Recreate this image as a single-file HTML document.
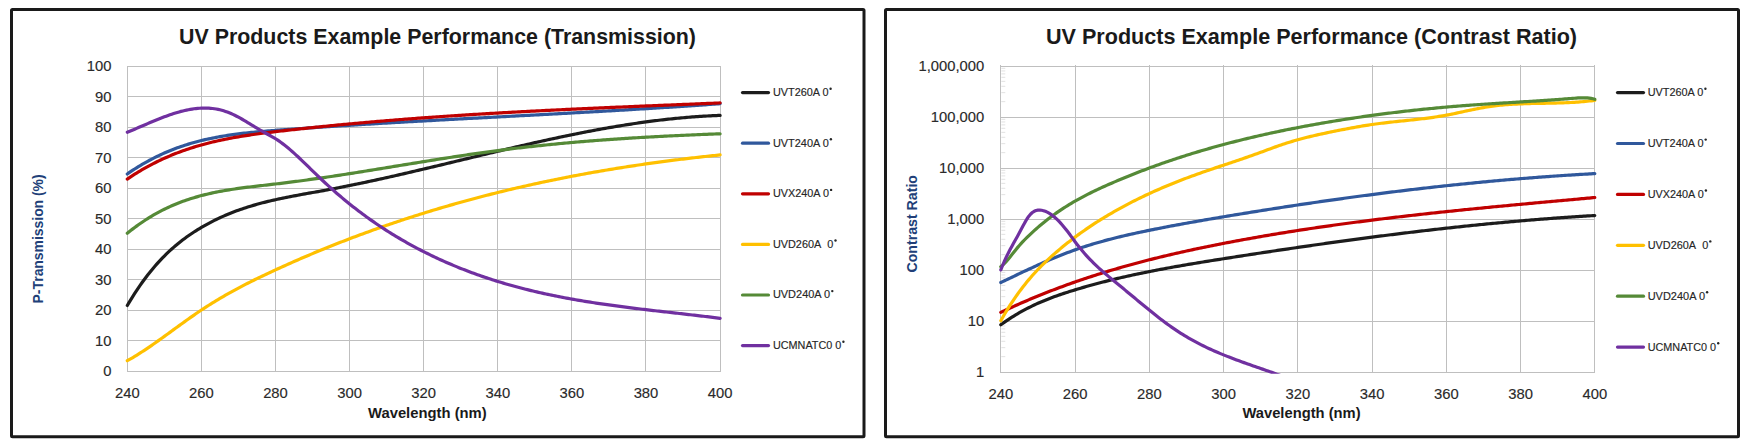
<!DOCTYPE html><html><head><meta charset="utf-8"><style>html,body{margin:0;padding:0;background:#fff;width:1750px;height:445px;overflow:hidden}svg{position:absolute;left:0;top:0;font-family:"Liberation Sans",sans-serif}</style></head><body>
<svg width="1750" height="445" viewBox="0 0 1750 445">
<defs><clipPath id="rclip"><rect x="997.8" y="63.0" width="600.0" height="310.8"/></clipPath></defs>
<rect x="11.5" y="9.6" width="852.5" height="427.2" rx="1" fill="none" stroke="#1a1a1a" stroke-width="3"/>
<text x="437.5" y="44" font-size="22" text-anchor="middle" fill="#1a1a1a" font-weight="bold" textLength="517" lengthAdjust="spacingAndGlyphs">UV Products Example Performance (Transmission)</text>
<path d="M127,371.50H721M127,340.50H721M127,310.50H721M127,279.50H721M127,249.50H721M127,218.50H721M127,188.50H721M127,157.50H721M127,127.50H721M127,96.50H721M127,66.50H721M127.50,66V372M201.50,66V372M275.50,66V372M349.50,66V372M423.50,66V372M497.50,66V372M571.50,66V372M645.50,66V372M720.50,66V372" stroke="#bfbfbf" stroke-width="1" fill="none"/>
<text x="111.5" y="376.3" font-size="15.4" text-anchor="end" fill="#2a2a2a" stroke="#2a2a2a" stroke-width="0.15" textLength="8.23" lengthAdjust="spacingAndGlyphs">0</text>
<text x="111.5" y="345.8" font-size="15.4" text-anchor="end" fill="#2a2a2a" stroke="#2a2a2a" stroke-width="0.15" textLength="16.46" lengthAdjust="spacingAndGlyphs">10</text>
<text x="111.5" y="315.3" font-size="15.4" text-anchor="end" fill="#2a2a2a" stroke="#2a2a2a" stroke-width="0.15" textLength="16.46" lengthAdjust="spacingAndGlyphs">20</text>
<text x="111.5" y="284.8" font-size="15.4" text-anchor="end" fill="#2a2a2a" stroke="#2a2a2a" stroke-width="0.15" textLength="16.46" lengthAdjust="spacingAndGlyphs">30</text>
<text x="111.5" y="254.3" font-size="15.4" text-anchor="end" fill="#2a2a2a" stroke="#2a2a2a" stroke-width="0.15" textLength="16.46" lengthAdjust="spacingAndGlyphs">40</text>
<text x="111.5" y="223.8" font-size="15.4" text-anchor="end" fill="#2a2a2a" stroke="#2a2a2a" stroke-width="0.15" textLength="16.46" lengthAdjust="spacingAndGlyphs">50</text>
<text x="111.5" y="193.3" font-size="15.4" text-anchor="end" fill="#2a2a2a" stroke="#2a2a2a" stroke-width="0.15" textLength="16.46" lengthAdjust="spacingAndGlyphs">60</text>
<text x="111.5" y="162.8" font-size="15.4" text-anchor="end" fill="#2a2a2a" stroke="#2a2a2a" stroke-width="0.15" textLength="16.46" lengthAdjust="spacingAndGlyphs">70</text>
<text x="111.5" y="132.3" font-size="15.4" text-anchor="end" fill="#2a2a2a" stroke="#2a2a2a" stroke-width="0.15" textLength="16.46" lengthAdjust="spacingAndGlyphs">80</text>
<text x="111.5" y="101.8" font-size="15.4" text-anchor="end" fill="#2a2a2a" stroke="#2a2a2a" stroke-width="0.15" textLength="16.46" lengthAdjust="spacingAndGlyphs">90</text>
<text x="111.5" y="71.3" font-size="15.4" text-anchor="end" fill="#2a2a2a" stroke="#2a2a2a" stroke-width="0.15" textLength="24.69" lengthAdjust="spacingAndGlyphs">100</text>
<text x="127.3" y="398.2" font-size="15.4" text-anchor="middle" fill="#2a2a2a" stroke="#2a2a2a" stroke-width="0.15" textLength="24.69" lengthAdjust="spacingAndGlyphs">240</text>
<text x="201.4" y="398.2" font-size="15.4" text-anchor="middle" fill="#2a2a2a" stroke="#2a2a2a" stroke-width="0.15" textLength="24.69" lengthAdjust="spacingAndGlyphs">260</text>
<text x="275.5" y="398.2" font-size="15.4" text-anchor="middle" fill="#2a2a2a" stroke="#2a2a2a" stroke-width="0.15" textLength="24.69" lengthAdjust="spacingAndGlyphs">280</text>
<text x="349.6" y="398.2" font-size="15.4" text-anchor="middle" fill="#2a2a2a" stroke="#2a2a2a" stroke-width="0.15" textLength="24.69" lengthAdjust="spacingAndGlyphs">300</text>
<text x="423.7" y="398.2" font-size="15.4" text-anchor="middle" fill="#2a2a2a" stroke="#2a2a2a" stroke-width="0.15" textLength="24.69" lengthAdjust="spacingAndGlyphs">320</text>
<text x="497.8" y="398.2" font-size="15.4" text-anchor="middle" fill="#2a2a2a" stroke="#2a2a2a" stroke-width="0.15" textLength="24.69" lengthAdjust="spacingAndGlyphs">340</text>
<text x="571.9" y="398.2" font-size="15.4" text-anchor="middle" fill="#2a2a2a" stroke="#2a2a2a" stroke-width="0.15" textLength="24.69" lengthAdjust="spacingAndGlyphs">360</text>
<text x="646.0" y="398.2" font-size="15.4" text-anchor="middle" fill="#2a2a2a" stroke="#2a2a2a" stroke-width="0.15" textLength="24.69" lengthAdjust="spacingAndGlyphs">380</text>
<text x="720.1" y="398.2" font-size="15.4" text-anchor="middle" fill="#2a2a2a" stroke="#2a2a2a" stroke-width="0.15" textLength="24.69" lengthAdjust="spacingAndGlyphs">400</text>
<text x="427.35" y="417.7" font-size="14.8" text-anchor="middle" fill="#1a1a1a" font-weight="bold" textLength="118.7" lengthAdjust="spacingAndGlyphs">Wavelength (nm)</text>
<g transform="translate(43.2,238.9) rotate(-90)"><text x="0" y="0" font-size="14.5" text-anchor="middle" fill="#213f78" font-weight="bold" textLength="129" lengthAdjust="spacingAndGlyphs">P-Transmission (%)</text></g>
<path d="M127.30,305.49 L129.15,302.36 L131.00,299.30 L132.86,296.33 L134.71,293.42 L136.56,290.59 L138.41,287.83 L140.27,285.14 L142.12,282.52 L143.97,279.97 L145.82,277.49 L147.68,275.07 L149.53,272.72 L151.38,270.43 L153.24,268.20 L155.09,266.03 L156.94,263.92 L158.79,261.87 L160.65,259.87 L162.50,257.93 L164.35,256.04 L166.20,254.20 L168.06,252.42 L169.91,250.68 L171.76,248.99 L173.61,247.35 L175.47,245.75 L177.32,244.20 L179.17,242.69 L181.02,241.23 L182.88,239.80 L184.73,238.41 L186.58,237.06 L188.43,235.74 L190.28,234.46 L192.14,233.22 L193.99,232.00 L195.84,230.82 L197.69,229.67 L199.55,228.54 L201.40,227.44 L203.25,226.37 L205.11,225.32 L206.96,224.29 L208.81,223.29 L210.66,222.31 L212.51,221.36 L214.37,220.43 L216.22,219.52 L218.07,218.63 L219.93,217.77 L221.78,216.92 L223.63,216.10 L225.48,215.30 L227.34,214.51 L229.19,213.75 L231.04,213.00 L232.89,212.27 L234.75,211.57 L236.60,210.87 L238.45,210.20 L240.30,209.54 L242.16,208.90 L244.01,208.28 L245.86,207.67 L247.71,207.07 L249.56,206.49 L251.42,205.93 L253.27,205.38 L255.12,204.84 L256.98,204.32 L258.83,203.80 L260.68,203.30 L262.53,202.82 L264.39,202.34 L266.24,201.87 L268.09,201.42 L269.94,200.97 L271.80,200.54 L273.65,200.11 L275.50,199.69 L277.35,199.28 L279.20,198.88 L281.06,198.49 L282.91,198.10 L284.76,197.72 L286.62,197.35 L288.47,196.98 L290.32,196.62 L292.17,196.26 L294.03,195.91 L295.88,195.56 L297.73,195.21 L299.58,194.87 L301.44,194.53 L303.29,194.20 L305.14,193.86 L306.99,193.53 L308.85,193.20 L310.70,192.87 L312.55,192.54 L314.40,192.21 L316.25,191.88 L318.11,191.55 L319.96,191.22 L321.81,190.88 L323.67,190.55 L325.52,190.21 L327.37,189.86 L329.22,189.52 L331.08,189.17 L332.93,188.82 L334.78,188.47 L336.63,188.11 L338.49,187.75 L340.34,187.39 L342.19,187.03 L344.04,186.66 L345.90,186.29 L347.75,185.92 L349.60,185.55 L351.45,185.17 L353.31,184.79 L355.16,184.41 L357.01,184.03 L358.86,183.64 L360.72,183.26 L362.57,182.87 L364.42,182.48 L366.27,182.08 L368.12,181.69 L369.98,181.29 L371.83,180.89 L373.68,180.49 L375.54,180.08 L377.39,179.68 L379.24,179.27 L381.09,178.86 L382.95,178.45 L384.80,178.04 L386.65,177.62 L388.50,177.21 L390.36,176.79 L392.21,176.37 L394.06,175.95 L395.91,175.53 L397.77,175.11 L399.62,174.68 L401.47,174.26 L403.32,173.83 L405.18,173.40 L407.03,172.97 L408.88,172.54 L410.73,172.11 L412.59,171.68 L414.44,171.24 L416.29,170.81 L418.14,170.37 L420.00,169.93 L421.85,169.50 L423.70,169.06 L425.55,168.62 L427.41,168.18 L429.26,167.74 L431.11,167.30 L432.96,166.85 L434.82,166.41 L436.67,165.97 L438.52,165.52 L440.37,165.08 L442.23,164.63 L444.08,164.19 L445.93,163.74 L447.78,163.30 L449.64,162.85 L451.49,162.40 L453.34,161.96 L455.19,161.51 L457.05,161.06 L458.90,160.62 L460.75,160.17 L462.60,159.72 L464.46,159.27 L466.31,158.83 L468.16,158.38 L470.01,157.93 L471.87,157.49 L473.72,157.04 L475.57,156.59 L477.42,156.15 L479.28,155.70 L481.13,155.26 L482.98,154.81 L484.83,154.37 L486.69,153.92 L488.54,153.48 L490.39,153.04 L492.24,152.59 L494.10,152.15 L495.95,151.71 L497.80,151.27 L499.65,150.83 L501.51,150.39 L503.36,149.95 L505.21,149.52 L507.06,149.08 L508.92,148.65 L510.77,148.21 L512.62,147.78 L514.47,147.35 L516.33,146.92 L518.18,146.49 L520.03,146.06 L521.88,145.63 L523.74,145.21 L525.59,144.78 L527.44,144.36 L529.29,143.94 L531.15,143.52 L533.00,143.10 L534.85,142.68 L536.70,142.26 L538.56,141.85 L540.41,141.44 L542.26,141.03 L544.11,140.62 L545.97,140.21 L547.82,139.80 L549.67,139.40 L551.52,139.00 L553.38,138.60 L555.23,138.20 L557.08,137.81 L558.93,137.41 L560.78,137.02 L562.64,136.63 L564.49,136.24 L566.34,135.86 L568.20,135.47 L570.05,135.09 L571.90,134.71 L573.75,134.34 L575.61,133.96 L577.46,133.59 L579.31,133.22 L581.16,132.86 L583.02,132.49 L584.87,132.13 L586.72,131.77 L588.57,131.42 L590.43,131.06 L592.28,130.71 L594.13,130.36 L595.98,130.02 L597.84,129.68 L599.69,129.34 L601.54,129.00 L603.39,128.67 L605.25,128.34 L607.10,128.01 L608.95,127.69 L610.80,127.37 L612.65,127.05 L614.51,126.73 L616.36,126.42 L618.21,126.11 L620.07,125.81 L621.92,125.51 L623.77,125.21 L625.62,124.91 L627.48,124.62 L629.33,124.34 L631.18,124.05 L633.03,123.77 L634.88,123.50 L636.74,123.22 L638.59,122.95 L640.44,122.69 L642.30,122.43 L644.15,122.17 L646.00,121.91 L647.85,121.66 L649.71,121.42 L651.56,121.18 L653.41,120.94 L655.26,120.71 L657.12,120.48 L658.97,120.25 L660.82,120.03 L662.67,119.81 L664.52,119.60 L666.38,119.39 L668.23,119.19 L670.08,118.99 L671.93,118.79 L673.79,118.60 L675.64,118.41 L677.49,118.23 L679.35,118.06 L681.20,117.88 L683.05,117.72 L684.90,117.55 L686.75,117.39 L688.61,117.24 L690.46,117.09 L692.31,116.95 L694.17,116.81 L696.02,116.67 L697.87,116.55 L699.72,116.42 L701.58,116.30 L703.43,116.19 L705.28,116.08 L707.13,115.98 L708.99,115.88 L710.84,115.79 L712.69,115.70 L714.54,115.62 L716.39,115.54 L718.25,115.47 L720.10,115.40" stroke="#1c1c1c" stroke-width="3.2" fill="none" stroke-linejoin="round" stroke-linecap="round"/>
<path d="M127.30,173.97 L129.15,172.69 L131.00,171.43 L132.86,170.20 L134.71,168.99 L136.56,167.82 L138.41,166.66 L140.27,165.54 L142.12,164.43 L143.97,163.36 L145.82,162.31 L147.68,161.28 L149.53,160.27 L151.38,159.29 L153.24,158.34 L155.09,157.40 L156.94,156.49 L158.79,155.60 L160.65,154.74 L162.50,153.89 L164.35,153.07 L166.20,152.26 L168.06,151.48 L169.91,150.72 L171.76,149.98 L173.61,149.26 L175.47,148.55 L177.32,147.87 L179.17,147.20 L181.02,146.56 L182.88,145.93 L184.73,145.32 L186.58,144.73 L188.43,144.15 L190.28,143.59 L192.14,143.05 L193.99,142.52 L195.84,142.01 L197.69,141.52 L199.55,141.04 L201.40,140.57 L203.25,140.12 L205.11,139.68 L206.96,139.26 L208.81,138.85 L210.66,138.45 L212.51,138.07 L214.37,137.70 L216.22,137.34 L218.07,137.00 L219.93,136.66 L221.78,136.34 L223.63,136.02 L225.48,135.72 L227.34,135.43 L229.19,135.15 L231.04,134.87 L232.89,134.61 L234.75,134.36 L236.60,134.11 L238.45,133.87 L240.30,133.64 L242.16,133.42 L244.01,133.21 L245.86,133.00 L247.71,132.80 L249.56,132.60 L251.42,132.42 L253.27,132.23 L255.12,132.06 L256.98,131.88 L258.83,131.72 L260.68,131.55 L262.53,131.39 L264.39,131.24 L266.24,131.08 L268.09,130.94 L269.94,130.79 L271.80,130.64 L273.65,130.50 L275.50,130.36 L277.35,130.22 L279.20,130.09 L281.06,129.95 L282.91,129.81 L284.76,129.68 L286.62,129.54 L288.47,129.41 L290.32,129.27 L292.17,129.14 L294.03,129.01 L295.88,128.88 L297.73,128.75 L299.58,128.61 L301.44,128.48 L303.29,128.36 L305.14,128.23 L306.99,128.10 L308.85,127.97 L310.70,127.84 L312.55,127.72 L314.40,127.59 L316.25,127.46 L318.11,127.34 L319.96,127.22 L321.81,127.09 L323.67,126.97 L325.52,126.85 L327.37,126.72 L329.22,126.60 L331.08,126.48 L332.93,126.36 L334.78,126.24 L336.63,126.12 L338.49,126.00 L340.34,125.88 L342.19,125.76 L344.04,125.64 L345.90,125.53 L347.75,125.41 L349.60,125.29 L351.45,125.18 L353.31,125.06 L355.16,124.95 L357.01,124.83 L358.86,124.72 L360.72,124.60 L362.57,124.49 L364.42,124.38 L366.27,124.26 L368.12,124.15 L369.98,124.04 L371.83,123.93 L373.68,123.82 L375.54,123.70 L377.39,123.59 L379.24,123.48 L381.09,123.37 L382.95,123.26 L384.80,123.16 L386.65,123.05 L388.50,122.94 L390.36,122.83 L392.21,122.72 L394.06,122.61 L395.91,122.51 L397.77,122.40 L399.62,122.29 L401.47,122.19 L403.32,122.08 L405.18,121.98 L407.03,121.87 L408.88,121.77 L410.73,121.66 L412.59,121.56 L414.44,121.45 L416.29,121.35 L418.14,121.25 L420.00,121.14 L421.85,121.04 L423.70,120.94 L425.55,120.83 L427.41,120.73 L429.26,120.63 L431.11,120.53 L432.96,120.42 L434.82,120.32 L436.67,120.22 L438.52,120.12 L440.37,120.02 L442.23,119.92 L444.08,119.82 L445.93,119.72 L447.78,119.62 L449.64,119.52 L451.49,119.41 L453.34,119.31 L455.19,119.22 L457.05,119.12 L458.90,119.02 L460.75,118.92 L462.60,118.82 L464.46,118.72 L466.31,118.62 L468.16,118.52 L470.01,118.42 L471.87,118.32 L473.72,118.22 L475.57,118.12 L477.42,118.03 L479.28,117.93 L481.13,117.83 L482.98,117.73 L484.83,117.63 L486.69,117.53 L488.54,117.44 L490.39,117.34 L492.24,117.24 L494.10,117.14 L495.95,117.04 L497.80,116.95 L499.65,116.85 L501.51,116.75 L503.36,116.65 L505.21,116.55 L507.06,116.46 L508.92,116.36 L510.77,116.26 L512.62,116.16 L514.47,116.06 L516.33,115.97 L518.18,115.87 L520.03,115.77 L521.88,115.67 L523.74,115.57 L525.59,115.47 L527.44,115.37 L529.29,115.28 L531.15,115.18 L533.00,115.08 L534.85,114.98 L536.70,114.88 L538.56,114.78 L540.41,114.68 L542.26,114.58 L544.11,114.48 L545.97,114.39 L547.82,114.29 L549.67,114.19 L551.52,114.09 L553.38,113.99 L555.23,113.89 L557.08,113.79 L558.93,113.69 L560.78,113.58 L562.64,113.48 L564.49,113.38 L566.34,113.28 L568.20,113.18 L570.05,113.08 L571.90,112.98 L573.75,112.87 L575.61,112.77 L577.46,112.67 L579.31,112.57 L581.16,112.47 L583.02,112.36 L584.87,112.26 L586.72,112.16 L588.57,112.05 L590.43,111.95 L592.28,111.84 L594.13,111.74 L595.98,111.63 L597.84,111.53 L599.69,111.42 L601.54,111.32 L603.39,111.21 L605.25,111.11 L607.10,111.00 L608.95,110.89 L610.80,110.79 L612.65,110.68 L614.51,110.57 L616.36,110.46 L618.21,110.35 L620.07,110.24 L621.92,110.14 L623.77,110.03 L625.62,109.92 L627.48,109.81 L629.33,109.70 L631.18,109.58 L633.03,109.47 L634.88,109.36 L636.74,109.25 L638.59,109.14 L640.44,109.02 L642.30,108.91 L644.15,108.80 L646.00,108.68 L647.85,108.57 L649.71,108.45 L651.56,108.34 L653.41,108.22 L655.26,108.11 L657.12,107.99 L658.97,107.87 L660.82,107.76 L662.67,107.64 L664.52,107.52 L666.38,107.40 L668.23,107.28 L670.08,107.16 L671.93,107.04 L673.79,106.92 L675.64,106.80 L677.49,106.68 L679.35,106.55 L681.20,106.43 L683.05,106.31 L684.90,106.18 L686.75,106.06 L688.61,105.93 L690.46,105.81 L692.31,105.68 L694.17,105.56 L696.02,105.43 L697.87,105.30 L699.72,105.17 L701.58,105.04 L703.43,104.91 L705.28,104.78 L707.13,104.65 L708.99,104.52 L710.84,104.39 L712.69,104.26 L714.54,104.12 L716.39,103.99 L718.25,103.86 L720.10,103.72" stroke="#30589c" stroke-width="3.2" fill="none" stroke-linejoin="round" stroke-linecap="round"/>
<path d="M127.30,179.08 L129.15,177.82 L131.00,176.60 L132.86,175.40 L134.71,174.22 L136.56,173.06 L138.41,171.93 L140.27,170.81 L142.12,169.73 L143.97,168.66 L145.82,167.61 L147.68,166.59 L149.53,165.59 L151.38,164.60 L153.24,163.64 L155.09,162.70 L156.94,161.78 L158.79,160.88 L160.65,160.00 L162.50,159.13 L164.35,158.29 L166.20,157.46 L168.06,156.66 L169.91,155.87 L171.76,155.09 L173.61,154.34 L175.47,153.60 L177.32,152.88 L179.17,152.18 L181.02,151.49 L182.88,150.82 L184.73,150.17 L186.58,149.53 L188.43,148.90 L190.28,148.30 L192.14,147.70 L193.99,147.12 L195.84,146.56 L197.69,146.00 L199.55,145.47 L201.40,144.94 L203.25,144.43 L205.11,143.93 L206.96,143.44 L208.81,142.97 L210.66,142.51 L212.51,142.05 L214.37,141.62 L216.22,141.19 L218.07,140.77 L219.93,140.36 L221.78,139.97 L223.63,139.58 L225.48,139.20 L227.34,138.83 L229.19,138.47 L231.04,138.13 L232.89,137.78 L234.75,137.45 L236.60,137.13 L238.45,136.81 L240.30,136.50 L242.16,136.20 L244.01,135.90 L245.86,135.61 L247.71,135.33 L249.56,135.06 L251.42,134.79 L253.27,134.52 L255.12,134.26 L256.98,134.01 L258.83,133.76 L260.68,133.51 L262.53,133.27 L264.39,133.03 L266.24,132.80 L268.09,132.57 L269.94,132.34 L271.80,132.12 L273.65,131.89 L275.50,131.67 L277.35,131.46 L279.20,131.24 L281.06,131.02 L282.91,130.81 L284.76,130.60 L286.62,130.39 L288.47,130.18 L290.32,129.97 L292.17,129.76 L294.03,129.55 L295.88,129.35 L297.73,129.14 L299.58,128.94 L301.44,128.74 L303.29,128.54 L305.14,128.34 L306.99,128.14 L308.85,127.95 L310.70,127.75 L312.55,127.56 L314.40,127.36 L316.25,127.17 L318.11,126.98 L319.96,126.79 L321.81,126.60 L323.67,126.41 L325.52,126.23 L327.37,126.04 L329.22,125.86 L331.08,125.68 L332.93,125.49 L334.78,125.31 L336.63,125.13 L338.49,124.95 L340.34,124.78 L342.19,124.60 L344.04,124.43 L345.90,124.25 L347.75,124.08 L349.60,123.91 L351.45,123.73 L353.31,123.56 L355.16,123.40 L357.01,123.23 L358.86,123.06 L360.72,122.89 L362.57,122.73 L364.42,122.56 L366.27,122.40 L368.12,122.24 L369.98,122.08 L371.83,121.92 L373.68,121.76 L375.54,121.60 L377.39,121.44 L379.24,121.29 L381.09,121.13 L382.95,120.98 L384.80,120.83 L386.65,120.67 L388.50,120.52 L390.36,120.37 L392.21,120.22 L394.06,120.07 L395.91,119.93 L397.77,119.78 L399.62,119.63 L401.47,119.49 L403.32,119.34 L405.18,119.20 L407.03,119.06 L408.88,118.92 L410.73,118.78 L412.59,118.64 L414.44,118.50 L416.29,118.36 L418.14,118.22 L420.00,118.09 L421.85,117.95 L423.70,117.82 L425.55,117.68 L427.41,117.55 L429.26,117.42 L431.11,117.29 L432.96,117.15 L434.82,117.02 L436.67,116.90 L438.52,116.77 L440.37,116.64 L442.23,116.51 L444.08,116.39 L445.93,116.26 L447.78,116.14 L449.64,116.01 L451.49,115.89 L453.34,115.77 L455.19,115.65 L457.05,115.53 L458.90,115.41 L460.75,115.29 L462.60,115.17 L464.46,115.05 L466.31,114.93 L468.16,114.82 L470.01,114.70 L471.87,114.58 L473.72,114.47 L475.57,114.36 L477.42,114.24 L479.28,114.13 L481.13,114.02 L482.98,113.91 L484.83,113.80 L486.69,113.69 L488.54,113.58 L490.39,113.47 L492.24,113.36 L494.10,113.25 L495.95,113.15 L497.80,113.04 L499.65,112.93 L501.51,112.83 L503.36,112.72 L505.21,112.62 L507.06,112.52 L508.92,112.41 L510.77,112.31 L512.62,112.21 L514.47,112.11 L516.33,112.01 L518.18,111.91 L520.03,111.81 L521.88,111.71 L523.74,111.61 L525.59,111.51 L527.44,111.41 L529.29,111.32 L531.15,111.22 L533.00,111.13 L534.85,111.03 L536.70,110.93 L538.56,110.84 L540.41,110.75 L542.26,110.65 L544.11,110.56 L545.97,110.47 L547.82,110.37 L549.67,110.28 L551.52,110.19 L553.38,110.10 L555.23,110.01 L557.08,109.92 L558.93,109.83 L560.78,109.74 L562.64,109.65 L564.49,109.56 L566.34,109.47 L568.20,109.39 L570.05,109.30 L571.90,109.21 L573.75,109.12 L575.61,109.04 L577.46,108.95 L579.31,108.87 L581.16,108.78 L583.02,108.70 L584.87,108.61 L586.72,108.53 L588.57,108.44 L590.43,108.36 L592.28,108.28 L594.13,108.19 L595.98,108.11 L597.84,108.03 L599.69,107.95 L601.54,107.86 L603.39,107.78 L605.25,107.70 L607.10,107.62 L608.95,107.54 L610.80,107.46 L612.65,107.38 L614.51,107.30 L616.36,107.22 L618.21,107.14 L620.07,107.06 L621.92,106.98 L623.77,106.90 L625.62,106.82 L627.48,106.74 L629.33,106.67 L631.18,106.59 L633.03,106.51 L634.88,106.43 L636.74,106.35 L638.59,106.28 L640.44,106.20 L642.30,106.12 L644.15,106.04 L646.00,105.97 L647.85,105.89 L649.71,105.81 L651.56,105.74 L653.41,105.66 L655.26,105.59 L657.12,105.51 L658.97,105.43 L660.82,105.36 L662.67,105.28 L664.52,105.21 L666.38,105.13 L668.23,105.05 L670.08,104.98 L671.93,104.90 L673.79,104.83 L675.64,104.75 L677.49,104.68 L679.35,104.60 L681.20,104.53 L683.05,104.45 L684.90,104.38 L686.75,104.30 L688.61,104.23 L690.46,104.15 L692.31,104.07 L694.17,104.00 L696.02,103.92 L697.87,103.85 L699.72,103.77 L701.58,103.70 L703.43,103.62 L705.28,103.55 L707.13,103.47 L708.99,103.40 L710.84,103.32 L712.69,103.25 L714.54,103.17 L716.39,103.09 L718.25,103.02 L720.10,102.94" stroke="#c00000" stroke-width="3.2" fill="none" stroke-linejoin="round" stroke-linecap="round"/>
<path d="M127.30,360.69 L129.15,359.65 L131.00,358.60 L132.86,357.51 L134.71,356.41 L136.56,355.28 L138.41,354.13 L140.27,352.95 L142.12,351.76 L143.97,350.55 L145.82,349.33 L147.68,348.08 L149.53,346.83 L151.38,345.56 L153.24,344.27 L155.09,342.98 L156.94,341.68 L158.79,340.36 L160.65,339.04 L162.50,337.72 L164.35,336.38 L166.20,335.04 L168.06,333.70 L169.91,332.36 L171.76,331.01 L173.61,329.66 L175.47,328.32 L177.32,326.97 L179.17,325.63 L181.02,324.29 L182.88,322.95 L184.73,321.62 L186.58,320.29 L188.43,318.97 L190.28,317.67 L192.14,316.36 L193.99,315.07 L195.84,313.80 L197.69,312.53 L199.55,311.28 L201.40,310.04 L203.25,308.81 L205.11,307.60 L206.96,306.41 L208.81,305.23 L210.66,304.06 L212.51,302.91 L214.37,301.77 L216.22,300.64 L218.07,299.53 L219.93,298.43 L221.78,297.34 L223.63,296.27 L225.48,295.20 L227.34,294.15 L229.19,293.11 L231.04,292.08 L232.89,291.06 L234.75,290.05 L236.60,289.05 L238.45,288.06 L240.30,287.09 L242.16,286.11 L244.01,285.15 L245.86,284.20 L247.71,283.26 L249.56,282.32 L251.42,281.39 L253.27,280.47 L255.12,279.56 L256.98,278.65 L258.83,277.75 L260.68,276.85 L262.53,275.97 L264.39,275.08 L266.24,274.21 L268.09,273.34 L269.94,272.47 L271.80,271.61 L273.65,270.75 L275.50,269.90 L277.35,269.05 L279.20,268.20 L281.06,267.36 L282.91,266.52 L284.76,265.69 L286.62,264.86 L288.47,264.03 L290.32,263.21 L292.17,262.39 L294.03,261.57 L295.88,260.76 L297.73,259.95 L299.58,259.15 L301.44,258.34 L303.29,257.55 L305.14,256.75 L306.99,255.96 L308.85,255.18 L310.70,254.39 L312.55,253.61 L314.40,252.84 L316.25,252.07 L318.11,251.30 L319.96,250.53 L321.81,249.77 L323.67,249.01 L325.52,248.26 L327.37,247.51 L329.22,246.76 L331.08,246.02 L332.93,245.28 L334.78,244.54 L336.63,243.81 L338.49,243.08 L340.34,242.35 L342.19,241.63 L344.04,240.91 L345.90,240.20 L347.75,239.48 L349.60,238.78 L351.45,238.07 L353.31,237.37 L355.16,236.67 L357.01,235.98 L358.86,235.28 L360.72,234.60 L362.57,233.91 L364.42,233.23 L366.27,232.55 L368.12,231.88 L369.98,231.21 L371.83,230.54 L373.68,229.87 L375.54,229.21 L377.39,228.56 L379.24,227.90 L381.09,227.25 L382.95,226.60 L384.80,225.96 L386.65,225.32 L388.50,224.68 L390.36,224.04 L392.21,223.41 L394.06,222.78 L395.91,222.16 L397.77,221.54 L399.62,220.92 L401.47,220.30 L403.32,219.69 L405.18,219.08 L407.03,218.47 L408.88,217.87 L410.73,217.27 L412.59,216.68 L414.44,216.08 L416.29,215.49 L418.14,214.91 L420.00,214.32 L421.85,213.74 L423.70,213.16 L425.55,212.59 L427.41,212.02 L429.26,211.45 L431.11,210.88 L432.96,210.32 L434.82,209.76 L436.67,209.21 L438.52,208.65 L440.37,208.10 L442.23,207.56 L444.08,207.01 L445.93,206.47 L447.78,205.93 L449.64,205.40 L451.49,204.87 L453.34,204.34 L455.19,203.81 L457.05,203.29 L458.90,202.77 L460.75,202.25 L462.60,201.74 L464.46,201.23 L466.31,200.72 L468.16,200.21 L470.01,199.71 L471.87,199.21 L473.72,198.71 L475.57,198.22 L477.42,197.73 L479.28,197.24 L481.13,196.76 L482.98,196.27 L484.83,195.79 L486.69,195.32 L488.54,194.84 L490.39,194.37 L492.24,193.90 L494.10,193.44 L495.95,192.98 L497.80,192.52 L499.65,192.06 L501.51,191.60 L503.36,191.15 L505.21,190.70 L507.06,190.26 L508.92,189.81 L510.77,189.37 L512.62,188.93 L514.47,188.50 L516.33,188.06 L518.18,187.63 L520.03,187.21 L521.88,186.78 L523.74,186.36 L525.59,185.94 L527.44,185.52 L529.29,185.11 L531.15,184.70 L533.00,184.29 L534.85,183.88 L536.70,183.48 L538.56,183.08 L540.41,182.68 L542.26,182.28 L544.11,181.89 L545.97,181.50 L547.82,181.11 L549.67,180.72 L551.52,180.34 L553.38,179.96 L555.23,179.58 L557.08,179.20 L558.93,178.83 L560.78,178.46 L562.64,178.09 L564.49,177.73 L566.34,177.36 L568.20,177.00 L570.05,176.64 L571.90,176.29 L573.75,175.93 L575.61,175.58 L577.46,175.23 L579.31,174.89 L581.16,174.54 L583.02,174.20 L584.87,173.86 L586.72,173.52 L588.57,173.19 L590.43,172.86 L592.28,172.53 L594.13,172.20 L595.98,171.87 L597.84,171.55 L599.69,171.23 L601.54,170.91 L603.39,170.59 L605.25,170.28 L607.10,169.97 L608.95,169.66 L610.80,169.35 L612.65,169.05 L614.51,168.74 L616.36,168.44 L618.21,168.15 L620.07,167.85 L621.92,167.56 L623.77,167.26 L625.62,166.97 L627.48,166.69 L629.33,166.40 L631.18,166.12 L633.03,165.84 L634.88,165.56 L636.74,165.28 L638.59,165.01 L640.44,164.74 L642.30,164.47 L644.15,164.20 L646.00,163.93 L647.85,163.67 L649.71,163.41 L651.56,163.15 L653.41,162.89 L655.26,162.63 L657.12,162.38 L658.97,162.13 L660.82,161.88 L662.67,161.63 L664.52,161.39 L666.38,161.14 L668.23,160.90 L670.08,160.66 L671.93,160.42 L673.79,160.19 L675.64,159.95 L677.49,159.72 L679.35,159.49 L681.20,159.26 L683.05,159.04 L684.90,158.81 L686.75,158.59 L688.61,158.37 L690.46,158.15 L692.31,157.94 L694.17,157.72 L696.02,157.51 L697.87,157.30 L699.72,157.09 L701.58,156.88 L703.43,156.68 L705.28,156.47 L707.13,156.27 L708.99,156.07 L710.84,155.87 L712.69,155.68 L714.54,155.48 L716.39,155.29 L718.25,155.10 L720.10,154.91" stroke="#ffc000" stroke-width="3.2" fill="none" stroke-linejoin="round" stroke-linecap="round"/>
<path d="M127.30,233.29 L129.15,231.78 L131.00,230.31 L132.86,228.88 L134.71,227.48 L136.56,226.11 L138.41,224.77 L140.27,223.47 L142.12,222.20 L143.97,220.96 L145.82,219.75 L147.68,218.57 L149.53,217.43 L151.38,216.31 L153.24,215.22 L155.09,214.16 L156.94,213.13 L158.79,212.12 L160.65,211.15 L162.50,210.20 L164.35,209.27 L166.20,208.37 L168.06,207.50 L169.91,206.65 L171.76,205.83 L173.61,205.03 L175.47,204.25 L177.32,203.50 L179.17,202.77 L181.02,202.06 L182.88,201.37 L184.73,200.71 L186.58,200.06 L188.43,199.44 L190.28,198.83 L192.14,198.24 L193.99,197.68 L195.84,197.13 L197.69,196.60 L199.55,196.08 L201.40,195.58 L203.25,195.10 L205.11,194.64 L206.96,194.19 L208.81,193.75 L210.66,193.33 L212.51,192.92 L214.37,192.53 L216.22,192.15 L218.07,191.78 L219.93,191.43 L221.78,191.08 L223.63,190.75 L225.48,190.43 L227.34,190.11 L229.19,189.81 L231.04,189.52 L232.89,189.23 L234.75,188.96 L236.60,188.69 L238.45,188.43 L240.30,188.17 L242.16,187.92 L244.01,187.68 L245.86,187.44 L247.71,187.21 L249.56,186.98 L251.42,186.76 L253.27,186.54 L255.12,186.32 L256.98,186.11 L258.83,185.90 L260.68,185.68 L262.53,185.47 L264.39,185.27 L266.24,185.06 L268.09,184.85 L269.94,184.64 L271.80,184.43 L273.65,184.21 L275.50,184.00 L277.35,183.78 L279.20,183.56 L281.06,183.34 L282.91,183.11 L284.76,182.88 L286.62,182.65 L288.47,182.42 L290.32,182.18 L292.17,181.95 L294.03,181.71 L295.88,181.46 L297.73,181.22 L299.58,180.97 L301.44,180.72 L303.29,180.47 L305.14,180.22 L306.99,179.96 L308.85,179.71 L310.70,179.45 L312.55,179.19 L314.40,178.93 L316.25,178.66 L318.11,178.39 L319.96,178.13 L321.81,177.86 L323.67,177.59 L325.52,177.31 L327.37,177.04 L329.22,176.76 L331.08,176.48 L332.93,176.21 L334.78,175.92 L336.63,175.64 L338.49,175.36 L340.34,175.08 L342.19,174.79 L344.04,174.50 L345.90,174.21 L347.75,173.93 L349.60,173.64 L351.45,173.34 L353.31,173.05 L355.16,172.76 L357.01,172.46 L358.86,172.17 L360.72,171.87 L362.57,171.58 L364.42,171.28 L366.27,170.98 L368.12,170.68 L369.98,170.38 L371.83,170.08 L373.68,169.78 L375.54,169.48 L377.39,169.18 L379.24,168.88 L381.09,168.58 L382.95,168.27 L384.80,167.97 L386.65,167.67 L388.50,167.37 L390.36,167.06 L392.21,166.76 L394.06,166.45 L395.91,166.15 L397.77,165.85 L399.62,165.54 L401.47,165.24 L403.32,164.94 L405.18,164.63 L407.03,164.33 L408.88,164.03 L410.73,163.72 L412.59,163.42 L414.44,163.12 L416.29,162.82 L418.14,162.52 L420.00,162.21 L421.85,161.91 L423.70,161.61 L425.55,161.32 L427.41,161.02 L429.26,160.72 L431.11,160.42 L432.96,160.13 L434.82,159.83 L436.67,159.54 L438.52,159.24 L440.37,158.95 L442.23,158.66 L444.08,158.37 L445.93,158.08 L447.78,157.79 L449.64,157.50 L451.49,157.21 L453.34,156.93 L455.19,156.64 L457.05,156.36 L458.90,156.08 L460.75,155.80 L462.60,155.52 L464.46,155.25 L466.31,154.97 L468.16,154.70 L470.01,154.42 L471.87,154.15 L473.72,153.88 L475.57,153.62 L477.42,153.35 L479.28,153.09 L481.13,152.82 L482.98,152.56 L484.83,152.31 L486.69,152.05 L488.54,151.80 L490.39,151.54 L492.24,151.29 L494.10,151.04 L495.95,150.80 L497.80,150.56 L499.65,150.31 L501.51,150.07 L503.36,149.84 L505.21,149.60 L507.06,149.37 L508.92,149.14 L510.77,148.91 L512.62,148.68 L514.47,148.46 L516.33,148.24 L518.18,148.02 L520.03,147.80 L521.88,147.59 L523.74,147.37 L525.59,147.16 L527.44,146.95 L529.29,146.74 L531.15,146.54 L533.00,146.33 L534.85,146.13 L536.70,145.93 L538.56,145.74 L540.41,145.54 L542.26,145.35 L544.11,145.16 L545.97,144.97 L547.82,144.78 L549.67,144.59 L551.52,144.41 L553.38,144.23 L555.23,144.05 L557.08,143.87 L558.93,143.69 L560.78,143.51 L562.64,143.34 L564.49,143.17 L566.34,143.00 L568.20,142.83 L570.05,142.67 L571.90,142.50 L573.75,142.34 L575.61,142.18 L577.46,142.02 L579.31,141.86 L581.16,141.71 L583.02,141.55 L584.87,141.40 L586.72,141.25 L588.57,141.10 L590.43,140.95 L592.28,140.80 L594.13,140.66 L595.98,140.52 L597.84,140.38 L599.69,140.24 L601.54,140.10 L603.39,139.96 L605.25,139.82 L607.10,139.69 L608.95,139.56 L610.80,139.43 L612.65,139.30 L614.51,139.17 L616.36,139.04 L618.21,138.92 L620.07,138.79 L621.92,138.67 L623.77,138.55 L625.62,138.43 L627.48,138.31 L629.33,138.19 L631.18,138.08 L633.03,137.96 L634.88,137.85 L636.74,137.74 L638.59,137.63 L640.44,137.52 L642.30,137.41 L644.15,137.30 L646.00,137.20 L647.85,137.09 L649.71,136.99 L651.56,136.89 L653.41,136.78 L655.26,136.68 L657.12,136.59 L658.97,136.49 L660.82,136.39 L662.67,136.30 L664.52,136.20 L666.38,136.11 L668.23,136.01 L670.08,135.92 L671.93,135.83 L673.79,135.74 L675.64,135.66 L677.49,135.57 L679.35,135.48 L681.20,135.40 L683.05,135.31 L684.90,135.23 L686.75,135.15 L688.61,135.06 L690.46,134.98 L692.31,134.90 L694.17,134.82 L696.02,134.74 L697.87,134.67 L699.72,134.59 L701.58,134.52 L703.43,134.44 L705.28,134.37 L707.13,134.29 L708.99,134.22 L710.84,134.15 L712.69,134.08 L714.54,134.01 L716.39,133.94 L718.25,133.87 L720.10,133.80" stroke="#558a37" stroke-width="3.2" fill="none" stroke-linejoin="round" stroke-linecap="round"/>
<path d="M127.30,132.23 L129.15,131.48 L131.00,130.71 L132.86,129.94 L134.71,129.16 L136.56,128.37 L138.41,127.58 L140.27,126.79 L142.12,125.99 L143.97,125.20 L145.82,124.41 L147.68,123.61 L149.53,122.83 L151.38,122.04 L153.24,121.27 L155.09,120.50 L156.94,119.74 L158.79,119.00 L160.65,118.26 L162.50,117.54 L164.35,116.84 L166.20,116.15 L168.06,115.48 L169.91,114.83 L171.76,114.20 L173.61,113.59 L175.47,113.01 L177.32,112.45 L179.17,111.92 L181.02,111.41 L182.88,110.94 L184.73,110.49 L186.58,110.08 L188.43,109.71 L190.28,109.36 L192.14,109.06 L193.99,108.79 L195.84,108.56 L197.69,108.37 L199.55,108.23 L201.40,108.12 L203.25,108.07 L205.11,108.06 L206.96,108.09 L208.81,108.18 L210.66,108.32 L212.51,108.50 L214.37,108.75 L216.22,109.04 L218.07,109.40 L219.93,109.81 L221.78,110.28 L223.63,110.81 L225.48,111.40 L227.34,112.06 L229.19,112.78 L231.04,113.56 L232.89,114.40 L234.75,115.29 L236.60,116.22 L238.45,117.20 L240.30,118.21 L242.16,119.26 L244.01,120.33 L245.86,121.42 L247.71,122.53 L249.56,123.65 L251.42,124.78 L253.27,125.91 L255.12,127.04 L256.98,128.16 L258.83,129.27 L260.68,130.36 L262.53,131.42 L264.39,132.46 L266.24,133.48 L268.09,134.48 L269.94,135.50 L271.80,136.53 L273.65,137.61 L275.50,138.73 L277.35,139.92 L279.20,141.18 L281.06,142.50 L282.91,143.88 L284.76,145.31 L286.62,146.79 L288.47,148.32 L290.32,149.89 L292.17,151.50 L294.03,153.15 L295.88,154.83 L297.73,156.54 L299.58,158.28 L301.44,160.04 L303.29,161.81 L305.14,163.60 L306.99,165.40 L308.85,167.21 L310.70,169.02 L312.55,170.83 L314.40,172.64 L316.25,174.44 L318.11,176.23 L319.96,178.01 L321.81,179.77 L323.67,181.50 L325.52,183.23 L327.37,184.93 L329.22,186.61 L331.08,188.28 L332.93,189.93 L334.78,191.56 L336.63,193.17 L338.49,194.76 L340.34,196.34 L342.19,197.90 L344.04,199.44 L345.90,200.97 L347.75,202.48 L349.60,203.97 L351.45,205.45 L353.31,206.91 L355.16,208.35 L357.01,209.78 L358.86,211.19 L360.72,212.59 L362.57,213.97 L364.42,215.33 L366.27,216.68 L368.12,218.02 L369.98,219.33 L371.83,220.64 L373.68,221.93 L375.54,223.20 L377.39,224.46 L379.24,225.71 L381.09,226.94 L382.95,228.16 L384.80,229.36 L386.65,230.55 L388.50,231.73 L390.36,232.89 L392.21,234.04 L394.06,235.17 L395.91,236.30 L397.77,237.41 L399.62,238.50 L401.47,239.59 L403.32,240.66 L405.18,241.72 L407.03,242.77 L408.88,243.80 L410.73,244.82 L412.59,245.84 L414.44,246.84 L416.29,247.82 L418.14,248.80 L420.00,249.77 L421.85,250.72 L423.70,251.67 L425.55,252.60 L427.41,253.52 L429.26,254.43 L431.11,255.34 L432.96,256.23 L434.82,257.11 L436.67,257.98 L438.52,258.84 L440.37,259.69 L442.23,260.53 L444.08,261.36 L445.93,262.18 L447.78,262.99 L449.64,263.79 L451.49,264.58 L453.34,265.36 L455.19,266.13 L457.05,266.89 L458.90,267.65 L460.75,268.39 L462.60,269.13 L464.46,269.85 L466.31,270.57 L468.16,271.27 L470.01,271.97 L471.87,272.66 L473.72,273.34 L475.57,274.02 L477.42,274.68 L479.28,275.34 L481.13,275.98 L482.98,276.62 L484.83,277.25 L486.69,277.88 L488.54,278.49 L490.39,279.10 L492.24,279.69 L494.10,280.28 L495.95,280.87 L497.80,281.44 L499.65,282.01 L501.51,282.57 L503.36,283.12 L505.21,283.67 L507.06,284.21 L508.92,284.74 L510.77,285.26 L512.62,285.78 L514.47,286.29 L516.33,286.79 L518.18,287.29 L520.03,287.78 L521.88,288.26 L523.74,288.74 L525.59,289.21 L527.44,289.67 L529.29,290.13 L531.15,290.58 L533.00,291.02 L534.85,291.46 L536.70,291.89 L538.56,292.32 L540.41,292.74 L542.26,293.16 L544.11,293.57 L545.97,293.97 L547.82,294.37 L549.67,294.76 L551.52,295.15 L553.38,295.53 L555.23,295.91 L557.08,296.28 L558.93,296.65 L560.78,297.01 L562.64,297.36 L564.49,297.72 L566.34,298.06 L568.20,298.41 L570.05,298.75 L571.90,299.08 L573.75,299.41 L575.61,299.73 L577.46,300.05 L579.31,300.37 L581.16,300.68 L583.02,300.99 L584.87,301.30 L586.72,301.60 L588.57,301.90 L590.43,302.19 L592.28,302.48 L594.13,302.76 L595.98,303.05 L597.84,303.33 L599.69,303.60 L601.54,303.88 L603.39,304.15 L605.25,304.41 L607.10,304.68 L608.95,304.94 L610.80,305.20 L612.65,305.45 L614.51,305.70 L616.36,305.95 L618.21,306.20 L620.07,306.45 L621.92,306.69 L623.77,306.93 L625.62,307.17 L627.48,307.40 L629.33,307.64 L631.18,307.87 L633.03,308.10 L634.88,308.33 L636.74,308.56 L638.59,308.78 L640.44,309.01 L642.30,309.23 L644.15,309.45 L646.00,309.67 L647.85,309.89 L649.71,310.11 L651.56,310.32 L653.41,310.54 L655.26,310.75 L657.12,310.97 L658.97,311.18 L660.82,311.39 L662.67,311.60 L664.52,311.81 L666.38,312.02 L668.23,312.23 L670.08,312.44 L671.93,312.65 L673.79,312.86 L675.64,313.07 L677.49,313.28 L679.35,313.49 L681.20,313.70 L683.05,313.91 L684.90,314.12 L686.75,314.34 L688.61,314.55 L690.46,314.76 L692.31,314.97 L694.17,315.19 L696.02,315.40 L697.87,315.62 L699.72,315.83 L701.58,316.05 L703.43,316.27 L705.28,316.49 L707.13,316.71 L708.99,316.94 L710.84,317.16 L712.69,317.39 L714.54,317.61 L716.39,317.84 L718.25,318.07 L720.10,318.31" stroke="#7030a0" stroke-width="3.2" fill="none" stroke-linejoin="round" stroke-linecap="round"/>
<path d="M742.5,92.60H768.5" stroke="#1c1c1c" stroke-width="3.2" stroke-linecap="round"/>
<text x="772.9" y="96.0" font-size="11.2" text-anchor="start" fill="#262626" stroke="#262626" stroke-width="0.15" textLength="55.6" lengthAdjust="spacingAndGlyphs">UVT260A 0</text>
<circle cx="830.60" cy="88.70" r="1.2" fill="#262626"/>
<path d="M742.5,143.20H768.5" stroke="#30589c" stroke-width="3.2" stroke-linecap="round"/>
<text x="772.9" y="146.6" font-size="11.2" text-anchor="start" fill="#262626" stroke="#262626" stroke-width="0.15" textLength="55.9" lengthAdjust="spacingAndGlyphs">UVT240A 0</text>
<circle cx="830.90" cy="139.30" r="1.2" fill="#262626"/>
<path d="M742.5,193.80H768.5" stroke="#c00000" stroke-width="3.2" stroke-linecap="round"/>
<text x="772.9" y="197.2" font-size="11.2" text-anchor="start" fill="#262626" stroke="#262626" stroke-width="0.15" textLength="56.1" lengthAdjust="spacingAndGlyphs">UVX240A 0</text>
<circle cx="831.10" cy="189.90" r="1.2" fill="#262626"/>
<path d="M742.5,244.40H768.5" stroke="#ffc000" stroke-width="3.2" stroke-linecap="round"/>
<text x="772.9" y="247.8" font-size="11.2" text-anchor="start" fill="#262626" stroke="#262626" stroke-width="0.15" textLength="60.5" lengthAdjust="spacingAndGlyphs">UVD260A&#160;&#160;0</text>
<circle cx="835.50" cy="240.50" r="1.2" fill="#262626"/>
<path d="M742.5,295.00H768.5" stroke="#558a37" stroke-width="3.2" stroke-linecap="round"/>
<text x="772.9" y="298.4" font-size="11.2" text-anchor="start" fill="#262626" stroke="#262626" stroke-width="0.15" textLength="57.3" lengthAdjust="spacingAndGlyphs">UVD240A 0</text>
<circle cx="832.30" cy="291.10" r="1.2" fill="#262626"/>
<path d="M742.5,345.60H768.5" stroke="#7030a0" stroke-width="3.2" stroke-linecap="round"/>
<text x="772.9" y="349.0" font-size="11.2" text-anchor="start" fill="#262626" stroke="#262626" stroke-width="0.15" textLength="68.4" lengthAdjust="spacingAndGlyphs">UCMNATC0 0</text>
<circle cx="843.40" cy="341.70" r="1.2" fill="#262626"/>
<rect x="885.5" y="9.6" width="853" height="427.2" rx="1" fill="none" stroke="#1a1a1a" stroke-width="3"/>
<text x="1311.5" y="44" font-size="22" text-anchor="middle" fill="#1a1a1a" font-weight="bold" textLength="531" lengthAdjust="spacingAndGlyphs">UV Products Example Performance (Contrast Ratio)</text>
<path d="M1000,372.50H1595M1000,321.50H1595M1000,270.50H1595M1000,219.50H1595M1000,168.50H1595M1000,117.50H1595M1000,66.50H1595M1000.50,65V372M1075.50,65V372M1149.50,65V372M1223.50,65V372M1297.50,65V372M1372.50,65V372M1446.50,65V372M1520.50,65V372M1594.50,65V372" stroke="#bfbfbf" stroke-width="1" fill="none"/>
<path d="M1001.30,356.65h4M1001.30,347.67h4M1001.30,341.29h4M1001.30,336.35h4M1001.30,332.31h4M1001.30,328.90h4M1001.30,325.94h4M1001.30,323.33h4M1001.30,305.65h4M1001.30,296.67h4M1001.30,290.29h4M1001.30,285.35h4M1001.30,281.31h4M1001.30,277.90h4M1001.30,274.94h4M1001.30,272.33h4M1001.30,254.65h4M1001.30,245.67h4M1001.30,239.29h4M1001.30,234.35h4M1001.30,230.31h4M1001.30,226.90h4M1001.30,223.94h4M1001.30,221.33h4M1001.30,203.65h4M1001.30,194.67h4M1001.30,188.29h4M1001.30,183.35h4M1001.30,179.31h4M1001.30,175.90h4M1001.30,172.94h4M1001.30,170.33h4M1001.30,152.65h4M1001.30,143.67h4M1001.30,137.29h4M1001.30,132.35h4M1001.30,128.31h4M1001.30,124.90h4M1001.30,121.94h4M1001.30,119.33h4M1001.30,101.65h4M1001.30,92.67h4M1001.30,86.29h4M1001.30,81.35h4M1001.30,77.31h4M1001.30,73.90h4M1001.30,70.94h4M1001.30,68.33h4" stroke="#e2e2e2" stroke-width="1" fill="none"/>
<text x="984.3" y="376.8" font-size="15.4" text-anchor="end" fill="#2a2a2a" stroke="#2a2a2a" stroke-width="0.15" textLength="8.23" lengthAdjust="spacingAndGlyphs">1</text>
<text x="984.3" y="325.8" font-size="15.4" text-anchor="end" fill="#2a2a2a" stroke="#2a2a2a" stroke-width="0.15" textLength="16.46" lengthAdjust="spacingAndGlyphs">10</text>
<text x="984.3" y="274.8" font-size="15.4" text-anchor="end" fill="#2a2a2a" stroke="#2a2a2a" stroke-width="0.15" textLength="24.69" lengthAdjust="spacingAndGlyphs">100</text>
<text x="984.3" y="223.8" font-size="15.4" text-anchor="end" fill="#2a2a2a" stroke="#2a2a2a" stroke-width="0.15" textLength="37.03" lengthAdjust="spacingAndGlyphs">1,000</text>
<text x="984.3" y="172.8" font-size="15.4" text-anchor="end" fill="#2a2a2a" stroke="#2a2a2a" stroke-width="0.15" textLength="45.26" lengthAdjust="spacingAndGlyphs">10,000</text>
<text x="984.3" y="121.8" font-size="15.4" text-anchor="end" fill="#2a2a2a" stroke="#2a2a2a" stroke-width="0.15" textLength="53.49" lengthAdjust="spacingAndGlyphs">100,000</text>
<text x="984.3" y="70.8" font-size="15.4" text-anchor="end" fill="#2a2a2a" stroke="#2a2a2a" stroke-width="0.15" textLength="65.83" lengthAdjust="spacingAndGlyphs">1,000,000</text>
<text x="1000.8" y="399.2" font-size="15.4" text-anchor="middle" fill="#2a2a2a" stroke="#2a2a2a" stroke-width="0.15" textLength="24.69" lengthAdjust="spacingAndGlyphs">240</text>
<text x="1075.05" y="399.2" font-size="15.4" text-anchor="middle" fill="#2a2a2a" stroke="#2a2a2a" stroke-width="0.15" textLength="24.69" lengthAdjust="spacingAndGlyphs">260</text>
<text x="1149.3" y="399.2" font-size="15.4" text-anchor="middle" fill="#2a2a2a" stroke="#2a2a2a" stroke-width="0.15" textLength="24.69" lengthAdjust="spacingAndGlyphs">280</text>
<text x="1223.55" y="399.2" font-size="15.4" text-anchor="middle" fill="#2a2a2a" stroke="#2a2a2a" stroke-width="0.15" textLength="24.69" lengthAdjust="spacingAndGlyphs">300</text>
<text x="1297.8" y="399.2" font-size="15.4" text-anchor="middle" fill="#2a2a2a" stroke="#2a2a2a" stroke-width="0.15" textLength="24.69" lengthAdjust="spacingAndGlyphs">320</text>
<text x="1372.05" y="399.2" font-size="15.4" text-anchor="middle" fill="#2a2a2a" stroke="#2a2a2a" stroke-width="0.15" textLength="24.69" lengthAdjust="spacingAndGlyphs">340</text>
<text x="1446.3" y="399.2" font-size="15.4" text-anchor="middle" fill="#2a2a2a" stroke="#2a2a2a" stroke-width="0.15" textLength="24.69" lengthAdjust="spacingAndGlyphs">360</text>
<text x="1520.55" y="399.2" font-size="15.4" text-anchor="middle" fill="#2a2a2a" stroke="#2a2a2a" stroke-width="0.15" textLength="24.69" lengthAdjust="spacingAndGlyphs">380</text>
<text x="1594.8" y="399.2" font-size="15.4" text-anchor="middle" fill="#2a2a2a" stroke="#2a2a2a" stroke-width="0.15" textLength="24.69" lengthAdjust="spacingAndGlyphs">400</text>
<text x="1301.5" y="418.4" font-size="14.8" text-anchor="middle" fill="#1a1a1a" font-weight="bold" textLength="118.2" lengthAdjust="spacingAndGlyphs">Wavelength (nm)</text>
<g transform="translate(917,223.8) rotate(-90)"><text x="0" y="0" font-size="14.1" text-anchor="middle" fill="#213f78" font-weight="bold" textLength="97.6" lengthAdjust="spacingAndGlyphs">Contrast Ratio</text></g>
<path d="M1000.80,324.83 L1002.66,323.48 L1004.51,322.16 L1006.37,320.87 L1008.22,319.62 L1010.08,318.40 L1011.94,317.21 L1013.79,316.04 L1015.65,314.91 L1017.51,313.81 L1019.36,312.73 L1021.22,311.68 L1023.07,310.65 L1024.93,309.66 L1026.79,308.68 L1028.64,307.73 L1030.50,306.81 L1032.36,305.90 L1034.21,305.02 L1036.07,304.16 L1037.92,303.32 L1039.78,302.51 L1041.64,301.71 L1043.49,300.93 L1045.35,300.16 L1047.21,299.42 L1049.06,298.69 L1050.92,297.98 L1052.77,297.28 L1054.63,296.60 L1056.49,295.93 L1058.34,295.27 L1060.20,294.63 L1062.06,294.00 L1063.91,293.38 L1065.77,292.77 L1067.62,292.17 L1069.48,291.58 L1071.34,290.99 L1073.19,290.42 L1075.05,289.85 L1076.91,289.29 L1078.76,288.74 L1080.62,288.19 L1082.47,287.65 L1084.33,287.11 L1086.19,286.58 L1088.04,286.05 L1089.90,285.54 L1091.76,285.02 L1093.61,284.51 L1095.47,284.01 L1097.33,283.52 L1099.18,283.03 L1101.04,282.54 L1102.89,282.06 L1104.75,281.59 L1106.61,281.12 L1108.46,280.65 L1110.32,280.19 L1112.17,279.74 L1114.03,279.29 L1115.89,278.84 L1117.74,278.40 L1119.60,277.97 L1121.46,277.54 L1123.31,277.11 L1125.17,276.69 L1127.02,276.27 L1128.88,275.86 L1130.74,275.45 L1132.59,275.04 L1134.45,274.64 L1136.31,274.25 L1138.16,273.85 L1140.02,273.46 L1141.88,273.08 L1143.73,272.70 L1145.59,272.32 L1147.44,271.95 L1149.30,271.57 L1151.16,271.21 L1153.01,270.84 L1154.87,270.48 L1156.72,270.12 L1158.58,269.77 L1160.44,269.42 L1162.29,269.07 L1164.15,268.72 L1166.01,268.38 L1167.86,268.04 L1169.72,267.70 L1171.57,267.37 L1173.43,267.03 L1175.29,266.70 L1177.14,266.37 L1179.00,266.05 L1180.86,265.73 L1182.71,265.40 L1184.57,265.09 L1186.42,264.77 L1188.28,264.45 L1190.14,264.14 L1191.99,263.83 L1193.85,263.52 L1195.71,263.21 L1197.56,262.90 L1199.42,262.60 L1201.28,262.29 L1203.13,261.99 L1204.99,261.69 L1206.84,261.39 L1208.70,261.09 L1210.56,260.79 L1212.41,260.50 L1214.27,260.20 L1216.12,259.91 L1217.98,259.61 L1219.84,259.32 L1221.69,259.02 L1223.55,258.73 L1225.41,258.44 L1227.26,258.15 L1229.12,257.86 L1230.97,257.56 L1232.83,257.27 L1234.69,256.98 L1236.54,256.69 L1238.40,256.40 L1240.26,256.12 L1242.11,255.83 L1243.97,255.54 L1245.82,255.25 L1247.68,254.97 L1249.54,254.68 L1251.39,254.40 L1253.25,254.11 L1255.11,253.83 L1256.96,253.54 L1258.82,253.26 L1260.67,252.97 L1262.53,252.69 L1264.39,252.41 L1266.24,252.13 L1268.10,251.85 L1269.96,251.57 L1271.81,251.29 L1273.67,251.01 L1275.53,250.73 L1277.38,250.45 L1279.24,250.18 L1281.09,249.90 L1282.95,249.62 L1284.81,249.35 L1286.66,249.07 L1288.52,248.80 L1290.38,248.52 L1292.23,248.25 L1294.09,247.98 L1295.94,247.71 L1297.80,247.43 L1299.66,247.16 L1301.51,246.89 L1303.37,246.62 L1305.22,246.36 L1307.08,246.09 L1308.94,245.82 L1310.79,245.55 L1312.65,245.29 L1314.51,245.02 L1316.36,244.76 L1318.22,244.49 L1320.07,244.23 L1321.93,243.97 L1323.79,243.71 L1325.64,243.44 L1327.50,243.18 L1329.36,242.92 L1331.21,242.67 L1333.07,242.41 L1334.92,242.15 L1336.78,241.89 L1338.64,241.64 L1340.49,241.38 L1342.35,241.13 L1344.21,240.87 L1346.06,240.62 L1347.92,240.37 L1349.78,240.11 L1351.63,239.86 L1353.49,239.61 L1355.34,239.36 L1357.20,239.12 L1359.06,238.87 L1360.91,238.62 L1362.77,238.38 L1364.62,238.13 L1366.48,237.89 L1368.34,237.64 L1370.19,237.40 L1372.05,237.16 L1373.91,236.92 L1375.76,236.68 L1377.62,236.44 L1379.47,236.20 L1381.33,235.96 L1383.19,235.72 L1385.04,235.49 L1386.90,235.25 L1388.76,235.02 L1390.61,234.78 L1392.47,234.55 L1394.32,234.32 L1396.18,234.09 L1398.04,233.86 L1399.89,233.63 L1401.75,233.40 L1403.61,233.17 L1405.46,232.95 L1407.32,232.72 L1409.17,232.50 L1411.03,232.27 L1412.89,232.05 L1414.74,231.83 L1416.60,231.61 L1418.46,231.39 L1420.31,231.17 L1422.17,230.95 L1424.03,230.73 L1425.88,230.52 L1427.74,230.30 L1429.59,230.09 L1431.45,229.88 L1433.31,229.66 L1435.16,229.45 L1437.02,229.24 L1438.88,229.03 L1440.73,228.83 L1442.59,228.62 L1444.44,228.41 L1446.30,228.21 L1448.16,228.00 L1450.01,227.80 L1451.87,227.60 L1453.72,227.40 L1455.58,227.20 L1457.44,227.00 L1459.29,226.80 L1461.15,226.60 L1463.01,226.41 L1464.86,226.21 L1466.72,226.02 L1468.57,225.83 L1470.43,225.64 L1472.29,225.45 L1474.14,225.26 L1476.00,225.07 L1477.86,224.88 L1479.71,224.70 L1481.57,224.51 L1483.42,224.33 L1485.28,224.14 L1487.14,223.96 L1488.99,223.78 L1490.85,223.60 L1492.71,223.43 L1494.56,223.25 L1496.42,223.07 L1498.28,222.90 L1500.13,222.73 L1501.99,222.55 L1503.84,222.38 L1505.70,222.21 L1507.56,222.04 L1509.41,221.88 L1511.27,221.71 L1513.12,221.54 L1514.98,221.38 L1516.84,221.22 L1518.69,221.06 L1520.55,220.90 L1522.41,220.74 L1524.26,220.58 L1526.12,220.42 L1527.97,220.27 L1529.83,220.11 L1531.69,219.96 L1533.54,219.81 L1535.40,219.66 L1537.26,219.51 L1539.11,219.36 L1540.97,219.21 L1542.82,219.07 L1544.68,218.92 L1546.54,218.78 L1548.39,218.64 L1550.25,218.50 L1552.11,218.36 L1553.96,218.22 L1555.82,218.09 L1557.67,217.95 L1559.53,217.82 L1561.39,217.69 L1563.24,217.55 L1565.10,217.42 L1566.96,217.30 L1568.81,217.17 L1570.67,217.04 L1572.53,216.92 L1574.38,216.80 L1576.24,216.67 L1578.09,216.55 L1579.95,216.43 L1581.81,216.32 L1583.66,216.20 L1585.52,216.09 L1587.38,215.97 L1589.23,215.86 L1591.09,215.75 L1592.94,215.64 L1594.80,215.53" stroke="#1c1c1c" stroke-width="3.2" fill="none" stroke-linejoin="round" stroke-linecap="round" clip-path="url(#rclip)"/>
<path d="M1000.80,282.50 L1002.66,281.62 L1004.51,280.74 L1006.37,279.86 L1008.22,278.98 L1010.08,278.09 L1011.94,277.21 L1013.79,276.33 L1015.65,275.44 L1017.51,274.56 L1019.36,273.68 L1021.22,272.80 L1023.07,271.92 L1024.93,271.05 L1026.79,270.18 L1028.64,269.31 L1030.50,268.45 L1032.36,267.59 L1034.21,266.73 L1036.07,265.88 L1037.92,265.04 L1039.78,264.20 L1041.64,263.37 L1043.49,262.54 L1045.35,261.73 L1047.21,260.92 L1049.06,260.12 L1050.92,259.32 L1052.77,258.54 L1054.63,257.76 L1056.49,257.00 L1058.34,256.24 L1060.20,255.49 L1062.06,254.76 L1063.91,254.03 L1065.77,253.31 L1067.62,252.60 L1069.48,251.91 L1071.34,251.22 L1073.19,250.55 L1075.05,249.88 L1076.91,249.23 L1078.76,248.59 L1080.62,247.96 L1082.47,247.34 L1084.33,246.73 L1086.19,246.13 L1088.04,245.54 L1089.90,244.96 L1091.76,244.39 L1093.61,243.83 L1095.47,243.28 L1097.33,242.74 L1099.18,242.21 L1101.04,241.68 L1102.89,241.17 L1104.75,240.66 L1106.61,240.16 L1108.46,239.66 L1110.32,239.18 L1112.17,238.70 L1114.03,238.23 L1115.89,237.76 L1117.74,237.30 L1119.60,236.85 L1121.46,236.41 L1123.31,235.97 L1125.17,235.53 L1127.02,235.10 L1128.88,234.68 L1130.74,234.26 L1132.59,233.85 L1134.45,233.44 L1136.31,233.04 L1138.16,232.64 L1140.02,232.24 L1141.88,231.85 L1143.73,231.46 L1145.59,231.07 L1147.44,230.69 L1149.30,230.31 L1151.16,229.93 L1153.01,229.56 L1154.87,229.19 L1156.72,228.82 L1158.58,228.45 L1160.44,228.08 L1162.29,227.72 L1164.15,227.36 L1166.01,227.00 L1167.86,226.65 L1169.72,226.30 L1171.57,225.94 L1173.43,225.60 L1175.29,225.25 L1177.14,224.90 L1179.00,224.56 L1180.86,224.22 L1182.71,223.88 L1184.57,223.54 L1186.42,223.21 L1188.28,222.87 L1190.14,222.54 L1191.99,222.21 L1193.85,221.88 L1195.71,221.55 L1197.56,221.22 L1199.42,220.90 L1201.28,220.58 L1203.13,220.25 L1204.99,219.93 L1206.84,219.61 L1208.70,219.29 L1210.56,218.98 L1212.41,218.66 L1214.27,218.34 L1216.12,218.03 L1217.98,217.71 L1219.84,217.40 L1221.69,217.09 L1223.55,216.78 L1225.41,216.47 L1227.26,216.16 L1229.12,215.85 L1230.97,215.54 L1232.83,215.23 L1234.69,214.93 L1236.54,214.62 L1238.40,214.32 L1240.26,214.01 L1242.11,213.71 L1243.97,213.41 L1245.82,213.10 L1247.68,212.80 L1249.54,212.50 L1251.39,212.20 L1253.25,211.90 L1255.11,211.61 L1256.96,211.31 L1258.82,211.01 L1260.67,210.72 L1262.53,210.42 L1264.39,210.13 L1266.24,209.83 L1268.10,209.54 L1269.96,209.25 L1271.81,208.96 L1273.67,208.67 L1275.53,208.38 L1277.38,208.09 L1279.24,207.80 L1281.09,207.52 L1282.95,207.23 L1284.81,206.95 L1286.66,206.66 L1288.52,206.38 L1290.38,206.10 L1292.23,205.81 L1294.09,205.53 L1295.94,205.25 L1297.80,204.98 L1299.66,204.70 L1301.51,204.42 L1303.37,204.14 L1305.22,203.87 L1307.08,203.59 L1308.94,203.32 L1310.79,203.05 L1312.65,202.77 L1314.51,202.50 L1316.36,202.23 L1318.22,201.96 L1320.07,201.70 L1321.93,201.43 L1323.79,201.16 L1325.64,200.90 L1327.50,200.63 L1329.36,200.37 L1331.21,200.10 L1333.07,199.84 L1334.92,199.58 L1336.78,199.32 L1338.64,199.06 L1340.49,198.80 L1342.35,198.55 L1344.21,198.29 L1346.06,198.03 L1347.92,197.78 L1349.78,197.52 L1351.63,197.27 L1353.49,197.02 L1355.34,196.77 L1357.20,196.52 L1359.06,196.27 L1360.91,196.02 L1362.77,195.78 L1364.62,195.53 L1366.48,195.29 L1368.34,195.04 L1370.19,194.80 L1372.05,194.56 L1373.91,194.32 L1375.76,194.08 L1377.62,193.84 L1379.47,193.60 L1381.33,193.36 L1383.19,193.13 L1385.04,192.89 L1386.90,192.66 L1388.76,192.42 L1390.61,192.19 L1392.47,191.96 L1394.32,191.73 L1396.18,191.50 L1398.04,191.27 L1399.89,191.05 L1401.75,190.82 L1403.61,190.60 L1405.46,190.37 L1407.32,190.15 L1409.17,189.93 L1411.03,189.71 L1412.89,189.49 L1414.74,189.27 L1416.60,189.05 L1418.46,188.84 L1420.31,188.62 L1422.17,188.41 L1424.03,188.20 L1425.88,187.98 L1427.74,187.77 L1429.59,187.56 L1431.45,187.35 L1433.31,187.15 L1435.16,186.94 L1437.02,186.73 L1438.88,186.53 L1440.73,186.33 L1442.59,186.12 L1444.44,185.92 L1446.30,185.72 L1448.16,185.53 L1450.01,185.33 L1451.87,185.13 L1453.72,184.94 L1455.58,184.74 L1457.44,184.55 L1459.29,184.36 L1461.15,184.17 L1463.01,183.98 L1464.86,183.79 L1466.72,183.60 L1468.57,183.41 L1470.43,183.23 L1472.29,183.04 L1474.14,182.86 L1476.00,182.68 L1477.86,182.50 L1479.71,182.32 L1481.57,182.14 L1483.42,181.96 L1485.28,181.79 L1487.14,181.61 L1488.99,181.44 L1490.85,181.27 L1492.71,181.10 L1494.56,180.93 L1496.42,180.76 L1498.28,180.59 L1500.13,180.43 L1501.99,180.26 L1503.84,180.10 L1505.70,179.93 L1507.56,179.77 L1509.41,179.61 L1511.27,179.45 L1513.12,179.30 L1514.98,179.14 L1516.84,178.98 L1518.69,178.83 L1520.55,178.68 L1522.41,178.53 L1524.26,178.38 L1526.12,178.23 L1527.97,178.08 L1529.83,177.93 L1531.69,177.79 L1533.54,177.64 L1535.40,177.50 L1537.26,177.36 L1539.11,177.22 L1540.97,177.08 L1542.82,176.94 L1544.68,176.81 L1546.54,176.67 L1548.39,176.54 L1550.25,176.40 L1552.11,176.27 L1553.96,176.14 L1555.82,176.01 L1557.67,175.89 L1559.53,175.76 L1561.39,175.64 L1563.24,175.51 L1565.10,175.39 L1566.96,175.27 L1568.81,175.15 L1570.67,175.03 L1572.53,174.91 L1574.38,174.80 L1576.24,174.69 L1578.09,174.57 L1579.95,174.46 L1581.81,174.35 L1583.66,174.24 L1585.52,174.13 L1587.38,174.03 L1589.23,173.92 L1591.09,173.82 L1592.94,173.72 L1594.80,173.62" stroke="#30589c" stroke-width="3.2" fill="none" stroke-linejoin="round" stroke-linecap="round" clip-path="url(#rclip)"/>
<path d="M1000.80,312.42 L1002.66,311.54 L1004.51,310.67 L1006.37,309.80 L1008.22,308.93 L1010.08,308.08 L1011.94,307.23 L1013.79,306.39 L1015.65,305.55 L1017.51,304.72 L1019.36,303.90 L1021.22,303.08 L1023.07,302.27 L1024.93,301.47 L1026.79,300.67 L1028.64,299.88 L1030.50,299.09 L1032.36,298.31 L1034.21,297.54 L1036.07,296.77 L1037.92,296.01 L1039.78,295.25 L1041.64,294.50 L1043.49,293.76 L1045.35,293.02 L1047.21,292.29 L1049.06,291.56 L1050.92,290.84 L1052.77,290.13 L1054.63,289.42 L1056.49,288.71 L1058.34,288.02 L1060.20,287.32 L1062.06,286.64 L1063.91,285.96 L1065.77,285.28 L1067.62,284.61 L1069.48,283.94 L1071.34,283.28 L1073.19,282.63 L1075.05,281.98 L1076.91,281.33 L1078.76,280.69 L1080.62,280.06 L1082.47,279.43 L1084.33,278.81 L1086.19,278.19 L1088.04,277.57 L1089.90,276.96 L1091.76,276.36 L1093.61,275.76 L1095.47,275.16 L1097.33,274.57 L1099.18,273.99 L1101.04,273.41 L1102.89,272.83 L1104.75,272.26 L1106.61,271.69 L1108.46,271.13 L1110.32,270.57 L1112.17,270.02 L1114.03,269.47 L1115.89,268.92 L1117.74,268.38 L1119.60,267.85 L1121.46,267.32 L1123.31,266.79 L1125.17,266.26 L1127.02,265.74 L1128.88,265.23 L1130.74,264.72 L1132.59,264.21 L1134.45,263.71 L1136.31,263.21 L1138.16,262.71 L1140.02,262.22 L1141.88,261.73 L1143.73,261.24 L1145.59,260.76 L1147.44,260.29 L1149.30,259.81 L1151.16,259.34 L1153.01,258.88 L1154.87,258.41 L1156.72,257.95 L1158.58,257.50 L1160.44,257.05 L1162.29,256.60 L1164.15,256.15 L1166.01,255.71 L1167.86,255.27 L1169.72,254.83 L1171.57,254.40 L1173.43,253.97 L1175.29,253.54 L1177.14,253.12 L1179.00,252.70 L1180.86,252.28 L1182.71,251.86 L1184.57,251.45 L1186.42,251.04 L1188.28,250.64 L1190.14,250.23 L1191.99,249.83 L1193.85,249.43 L1195.71,249.04 L1197.56,248.64 L1199.42,248.25 L1201.28,247.87 L1203.13,247.48 L1204.99,247.10 L1206.84,246.72 L1208.70,246.34 L1210.56,245.96 L1212.41,245.59 L1214.27,245.22 L1216.12,244.85 L1217.98,244.48 L1219.84,244.12 L1221.69,243.75 L1223.55,243.39 L1225.41,243.03 L1227.26,242.68 L1229.12,242.32 L1230.97,241.97 L1232.83,241.62 L1234.69,241.27 L1236.54,240.92 L1238.40,240.58 L1240.26,240.23 L1242.11,239.89 L1243.97,239.55 L1245.82,239.22 L1247.68,238.88 L1249.54,238.55 L1251.39,238.21 L1253.25,237.88 L1255.11,237.56 L1256.96,237.23 L1258.82,236.91 L1260.67,236.58 L1262.53,236.26 L1264.39,235.94 L1266.24,235.63 L1268.10,235.31 L1269.96,235.00 L1271.81,234.68 L1273.67,234.37 L1275.53,234.06 L1277.38,233.76 L1279.24,233.45 L1281.09,233.15 L1282.95,232.85 L1284.81,232.55 L1286.66,232.25 L1288.52,231.95 L1290.38,231.66 L1292.23,231.36 L1294.09,231.07 L1295.94,230.78 L1297.80,230.49 L1299.66,230.20 L1301.51,229.92 L1303.37,229.63 L1305.22,229.35 L1307.08,229.07 L1308.94,228.79 L1310.79,228.51 L1312.65,228.24 L1314.51,227.96 L1316.36,227.69 L1318.22,227.42 L1320.07,227.15 L1321.93,226.88 L1323.79,226.61 L1325.64,226.34 L1327.50,226.08 L1329.36,225.82 L1331.21,225.55 L1333.07,225.29 L1334.92,225.03 L1336.78,224.78 L1338.64,224.52 L1340.49,224.26 L1342.35,224.01 L1344.21,223.76 L1346.06,223.51 L1347.92,223.26 L1349.78,223.01 L1351.63,222.76 L1353.49,222.52 L1355.34,222.27 L1357.20,222.03 L1359.06,221.79 L1360.91,221.55 L1362.77,221.31 L1364.62,221.07 L1366.48,220.83 L1368.34,220.59 L1370.19,220.36 L1372.05,220.13 L1373.91,219.89 L1375.76,219.66 L1377.62,219.43 L1379.47,219.20 L1381.33,218.98 L1383.19,218.75 L1385.04,218.52 L1386.90,218.30 L1388.76,218.08 L1390.61,217.85 L1392.47,217.63 L1394.32,217.41 L1396.18,217.19 L1398.04,216.97 L1399.89,216.76 L1401.75,216.54 L1403.61,216.33 L1405.46,216.11 L1407.32,215.90 L1409.17,215.69 L1411.03,215.47 L1412.89,215.26 L1414.74,215.05 L1416.60,214.85 L1418.46,214.64 L1420.31,214.43 L1422.17,214.23 L1424.03,214.02 L1425.88,213.82 L1427.74,213.61 L1429.59,213.41 L1431.45,213.21 L1433.31,213.01 L1435.16,212.81 L1437.02,212.61 L1438.88,212.41 L1440.73,212.21 L1442.59,212.02 L1444.44,211.82 L1446.30,211.63 L1448.16,211.43 L1450.01,211.24 L1451.87,211.05 L1453.72,210.85 L1455.58,210.66 L1457.44,210.47 L1459.29,210.28 L1461.15,210.09 L1463.01,209.90 L1464.86,209.71 L1466.72,209.53 L1468.57,209.34 L1470.43,209.15 L1472.29,208.97 L1474.14,208.78 L1476.00,208.60 L1477.86,208.41 L1479.71,208.23 L1481.57,208.05 L1483.42,207.87 L1485.28,207.68 L1487.14,207.50 L1488.99,207.32 L1490.85,207.14 L1492.71,206.96 L1494.56,206.78 L1496.42,206.60 L1498.28,206.43 L1500.13,206.25 L1501.99,206.07 L1503.84,205.89 L1505.70,205.72 L1507.56,205.54 L1509.41,205.37 L1511.27,205.19 L1513.12,205.02 L1514.98,204.84 L1516.84,204.67 L1518.69,204.49 L1520.55,204.32 L1522.41,204.15 L1524.26,203.97 L1526.12,203.80 L1527.97,203.63 L1529.83,203.46 L1531.69,203.29 L1533.54,203.11 L1535.40,202.94 L1537.26,202.77 L1539.11,202.60 L1540.97,202.43 L1542.82,202.26 L1544.68,202.09 L1546.54,201.92 L1548.39,201.75 L1550.25,201.58 L1552.11,201.41 L1553.96,201.24 L1555.82,201.07 L1557.67,200.90 L1559.53,200.73 L1561.39,200.57 L1563.24,200.40 L1565.10,200.23 L1566.96,200.06 L1568.81,199.89 L1570.67,199.72 L1572.53,199.55 L1574.38,199.39 L1576.24,199.22 L1578.09,199.05 L1579.95,198.88 L1581.81,198.71 L1583.66,198.54 L1585.52,198.38 L1587.38,198.21 L1589.23,198.04 L1591.09,197.87 L1592.94,197.70 L1594.80,197.53" stroke="#c00000" stroke-width="3.2" fill="none" stroke-linejoin="round" stroke-linecap="round" clip-path="url(#rclip)"/>
<path d="M1000.80,320.73 L1002.66,317.45 L1004.51,314.26 L1006.37,311.16 L1008.22,308.15 L1010.08,305.21 L1011.94,302.35 L1013.79,299.57 L1015.65,296.87 L1017.51,294.24 L1019.36,291.68 L1021.22,289.19 L1023.07,286.76 L1024.93,284.40 L1026.79,282.11 L1028.64,279.87 L1030.50,277.69 L1032.36,275.56 L1034.21,273.49 L1036.07,271.47 L1037.92,269.50 L1039.78,267.57 L1041.64,265.69 L1043.49,263.85 L1045.35,262.05 L1047.21,260.29 L1049.06,258.57 L1050.92,256.88 L1052.77,255.22 L1054.63,253.59 L1056.49,251.99 L1058.34,250.41 L1060.20,248.86 L1062.06,247.32 L1063.91,245.81 L1065.77,244.32 L1067.62,242.84 L1069.48,241.39 L1071.34,239.96 L1073.19,238.54 L1075.05,237.15 L1076.91,235.77 L1078.76,234.41 L1080.62,233.07 L1082.47,231.75 L1084.33,230.44 L1086.19,229.16 L1088.04,227.88 L1089.90,226.63 L1091.76,225.39 L1093.61,224.17 L1095.47,222.96 L1097.33,221.77 L1099.18,220.59 L1101.04,219.43 L1102.89,218.29 L1104.75,217.15 L1106.61,216.03 L1108.46,214.93 L1110.32,213.84 L1112.17,212.76 L1114.03,211.69 L1115.89,210.64 L1117.74,209.60 L1119.60,208.57 L1121.46,207.55 L1123.31,206.55 L1125.17,205.55 L1127.02,204.57 L1128.88,203.60 L1130.74,202.63 L1132.59,201.68 L1134.45,200.74 L1136.31,199.81 L1138.16,198.89 L1140.02,197.99 L1141.88,197.09 L1143.73,196.20 L1145.59,195.32 L1147.44,194.45 L1149.30,193.59 L1151.16,192.74 L1153.01,191.89 L1154.87,191.06 L1156.72,190.24 L1158.58,189.42 L1160.44,188.61 L1162.29,187.81 L1164.15,187.02 L1166.01,186.24 L1167.86,185.47 L1169.72,184.70 L1171.57,183.94 L1173.43,183.19 L1175.29,182.45 L1177.14,181.71 L1179.00,180.98 L1180.86,180.26 L1182.71,179.54 L1184.57,178.84 L1186.42,178.13 L1188.28,177.44 L1190.14,176.75 L1191.99,176.06 L1193.85,175.39 L1195.71,174.71 L1197.56,174.05 L1199.42,173.39 L1201.28,172.73 L1203.13,172.08 L1204.99,171.43 L1206.84,170.79 L1208.70,170.16 L1210.56,169.52 L1212.41,168.89 L1214.27,168.26 L1216.12,167.64 L1217.98,167.01 L1219.84,166.39 L1221.69,165.77 L1223.55,165.15 L1225.41,164.53 L1227.26,163.91 L1229.12,163.29 L1230.97,162.67 L1232.83,162.05 L1234.69,161.43 L1236.54,160.80 L1238.40,160.17 L1240.26,159.54 L1242.11,158.91 L1243.97,158.27 L1245.82,157.63 L1247.68,156.99 L1249.54,156.34 L1251.39,155.69 L1253.25,155.03 L1255.11,154.36 L1256.96,153.69 L1258.82,153.01 L1260.67,152.33 L1262.53,151.65 L1264.39,150.96 L1266.24,150.27 L1268.10,149.58 L1269.96,148.90 L1271.81,148.21 L1273.67,147.54 L1275.53,146.87 L1277.38,146.21 L1279.24,145.55 L1281.09,144.91 L1282.95,144.28 L1284.81,143.67 L1286.66,143.07 L1288.52,142.48 L1290.38,141.91 L1292.23,141.35 L1294.09,140.81 L1295.94,140.27 L1297.80,139.75 L1299.66,139.24 L1301.51,138.75 L1303.37,138.26 L1305.22,137.78 L1307.08,137.31 L1308.94,136.85 L1310.79,136.40 L1312.65,135.96 L1314.51,135.53 L1316.36,135.10 L1318.22,134.68 L1320.07,134.27 L1321.93,133.87 L1323.79,133.47 L1325.64,133.07 L1327.50,132.68 L1329.36,132.29 L1331.21,131.91 L1333.07,131.53 L1334.92,131.16 L1336.78,130.78 L1338.64,130.41 L1340.49,130.05 L1342.35,129.68 L1344.21,129.32 L1346.06,128.96 L1347.92,128.60 L1349.78,128.25 L1351.63,127.90 L1353.49,127.56 L1355.34,127.23 L1357.20,126.90 L1359.06,126.57 L1360.91,126.25 L1362.77,125.94 L1364.62,125.64 L1366.48,125.34 L1368.34,125.05 L1370.19,124.77 L1372.05,124.50 L1373.91,124.23 L1375.76,123.98 L1377.62,123.73 L1379.47,123.49 L1381.33,123.26 L1383.19,123.04 L1385.04,122.82 L1386.90,122.60 L1388.76,122.39 L1390.61,122.18 L1392.47,121.98 L1394.32,121.78 L1396.18,121.58 L1398.04,121.39 L1399.89,121.19 L1401.75,121.00 L1403.61,120.81 L1405.46,120.61 L1407.32,120.42 L1409.17,120.22 L1411.03,120.03 L1412.89,119.83 L1414.74,119.62 L1416.60,119.42 L1418.46,119.21 L1420.31,118.99 L1422.17,118.77 L1424.03,118.54 L1425.88,118.31 L1427.74,118.07 L1429.59,117.82 L1431.45,117.57 L1433.31,117.30 L1435.16,117.03 L1437.02,116.75 L1438.88,116.45 L1440.73,116.15 L1442.59,115.84 L1444.44,115.51 L1446.30,115.17 L1448.16,114.82 L1450.01,114.45 L1451.87,114.08 L1453.72,113.70 L1455.58,113.31 L1457.44,112.91 L1459.29,112.51 L1461.15,112.11 L1463.01,111.71 L1464.86,111.30 L1466.72,110.90 L1468.57,110.50 L1470.43,110.10 L1472.29,109.71 L1474.14,109.32 L1476.00,108.95 L1477.86,108.58 L1479.71,108.22 L1481.57,107.88 L1483.42,107.55 L1485.28,107.24 L1487.14,106.94 L1488.99,106.65 L1490.85,106.39 L1492.71,106.13 L1494.56,105.89 L1496.42,105.67 L1498.28,105.46 L1500.13,105.26 L1501.99,105.07 L1503.84,104.90 L1505.70,104.75 L1507.56,104.60 L1509.41,104.46 L1511.27,104.34 L1513.12,104.23 L1514.98,104.12 L1516.84,104.03 L1518.69,103.94 L1520.55,103.86 L1522.41,103.79 L1524.26,103.72 L1526.12,103.67 L1527.97,103.61 L1529.83,103.56 L1531.69,103.52 L1533.54,103.48 L1535.40,103.44 L1537.26,103.41 L1539.11,103.37 L1540.97,103.34 L1542.82,103.31 L1544.68,103.28 L1546.54,103.25 L1548.39,103.21 L1550.25,103.18 L1552.11,103.14 L1553.96,103.10 L1555.82,103.06 L1557.67,103.01 L1559.53,102.96 L1561.39,102.90 L1563.24,102.84 L1565.10,102.77 L1566.96,102.70 L1568.81,102.61 L1570.67,102.52 L1572.53,102.42 L1574.38,102.31 L1576.24,102.19 L1578.09,102.05 L1579.95,101.91 L1581.81,101.76 L1583.66,101.59 L1585.52,101.41 L1587.38,101.22 L1589.23,101.01 L1591.09,100.79 L1592.94,100.55 L1594.80,100.29" stroke="#ffc000" stroke-width="3.2" fill="none" stroke-linejoin="round" stroke-linecap="round" clip-path="url(#rclip)"/>
<path d="M1000.80,266.64 L1002.66,265.12 L1004.51,263.34 L1006.37,261.35 L1008.22,259.20 L1010.08,256.93 L1011.94,254.60 L1013.79,252.24 L1015.65,249.90 L1017.51,247.64 L1019.36,245.47 L1021.22,243.41 L1023.07,241.42 L1024.93,239.50 L1026.79,237.65 L1028.64,235.85 L1030.50,234.08 L1032.36,232.35 L1034.21,230.66 L1036.07,229.00 L1037.92,227.38 L1039.78,225.79 L1041.64,224.23 L1043.49,222.71 L1045.35,221.22 L1047.21,219.76 L1049.06,218.33 L1050.92,216.94 L1052.77,215.57 L1054.63,214.23 L1056.49,212.91 L1058.34,211.63 L1060.20,210.37 L1062.06,209.13 L1063.91,207.92 L1065.77,206.74 L1067.62,205.58 L1069.48,204.44 L1071.34,203.32 L1073.19,202.23 L1075.05,201.15 L1076.91,200.10 L1078.76,199.06 L1080.62,198.05 L1082.47,197.05 L1084.33,196.07 L1086.19,195.10 L1088.04,194.16 L1089.90,193.22 L1091.76,192.30 L1093.61,191.40 L1095.47,190.51 L1097.33,189.62 L1099.18,188.76 L1101.04,187.90 L1102.89,187.05 L1104.75,186.21 L1106.61,185.38 L1108.46,184.56 L1110.32,183.75 L1112.17,182.94 L1114.03,182.14 L1115.89,181.35 L1117.74,180.56 L1119.60,179.78 L1121.46,179.00 L1123.31,178.23 L1125.17,177.46 L1127.02,176.71 L1128.88,175.95 L1130.74,175.21 L1132.59,174.46 L1134.45,173.73 L1136.31,173.00 L1138.16,172.27 L1140.02,171.56 L1141.88,170.84 L1143.73,170.14 L1145.59,169.43 L1147.44,168.74 L1149.30,168.05 L1151.16,167.36 L1153.01,166.68 L1154.87,166.01 L1156.72,165.34 L1158.58,164.67 L1160.44,164.02 L1162.29,163.36 L1164.15,162.71 L1166.01,162.07 L1167.86,161.43 L1169.72,160.80 L1171.57,160.17 L1173.43,159.55 L1175.29,158.93 L1177.14,158.32 L1179.00,157.71 L1180.86,157.11 L1182.71,156.51 L1184.57,155.92 L1186.42,155.33 L1188.28,154.75 L1190.14,154.17 L1191.99,153.59 L1193.85,153.03 L1195.71,152.46 L1197.56,151.90 L1199.42,151.35 L1201.28,150.80 L1203.13,150.25 L1204.99,149.71 L1206.84,149.17 L1208.70,148.64 L1210.56,148.11 L1212.41,147.58 L1214.27,147.06 L1216.12,146.55 L1217.98,146.04 L1219.84,145.53 L1221.69,145.03 L1223.55,144.53 L1225.41,144.03 L1227.26,143.54 L1229.12,143.06 L1230.97,142.57 L1232.83,142.10 L1234.69,141.62 L1236.54,141.15 L1238.40,140.68 L1240.26,140.22 L1242.11,139.76 L1243.97,139.31 L1245.82,138.85 L1247.68,138.41 L1249.54,137.96 L1251.39,137.52 L1253.25,137.08 L1255.11,136.65 L1256.96,136.22 L1258.82,135.80 L1260.67,135.37 L1262.53,134.95 L1264.39,134.54 L1266.24,134.13 L1268.10,133.72 L1269.96,133.31 L1271.81,132.91 L1273.67,132.51 L1275.53,132.11 L1277.38,131.72 L1279.24,131.33 L1281.09,130.94 L1282.95,130.56 L1284.81,130.18 L1286.66,129.80 L1288.52,129.43 L1290.38,129.06 L1292.23,128.69 L1294.09,128.32 L1295.94,127.96 L1297.80,127.60 L1299.66,127.24 L1301.51,126.89 L1303.37,126.53 L1305.22,126.19 L1307.08,125.84 L1308.94,125.50 L1310.79,125.15 L1312.65,124.82 L1314.51,124.48 L1316.36,124.15 L1318.22,123.82 L1320.07,123.49 L1321.93,123.17 L1323.79,122.85 L1325.64,122.53 L1327.50,122.21 L1329.36,121.90 L1331.21,121.58 L1333.07,121.28 L1334.92,120.97 L1336.78,120.67 L1338.64,120.37 L1340.49,120.07 L1342.35,119.77 L1344.21,119.48 L1346.06,119.19 L1347.92,118.90 L1349.78,118.62 L1351.63,118.33 L1353.49,118.05 L1355.34,117.77 L1357.20,117.50 L1359.06,117.23 L1360.91,116.96 L1362.77,116.69 L1364.62,116.42 L1366.48,116.16 L1368.34,115.90 L1370.19,115.64 L1372.05,115.39 L1373.91,115.14 L1375.76,114.89 L1377.62,114.64 L1379.47,114.39 L1381.33,114.15 L1383.19,113.91 L1385.04,113.67 L1386.90,113.43 L1388.76,113.20 L1390.61,112.97 L1392.47,112.74 L1394.32,112.51 L1396.18,112.29 L1398.04,112.07 L1399.89,111.85 L1401.75,111.63 L1403.61,111.42 L1405.46,111.20 L1407.32,110.99 L1409.17,110.79 L1411.03,110.58 L1412.89,110.38 L1414.74,110.18 L1416.60,109.98 L1418.46,109.78 L1420.31,109.59 L1422.17,109.39 L1424.03,109.21 L1425.88,109.02 L1427.74,108.83 L1429.59,108.65 L1431.45,108.47 L1433.31,108.29 L1435.16,108.11 L1437.02,107.94 L1438.88,107.77 L1440.73,107.60 L1442.59,107.43 L1444.44,107.26 L1446.30,107.10 L1448.16,106.94 L1450.01,106.78 L1451.87,106.62 L1453.72,106.46 L1455.58,106.31 L1457.44,106.16 L1459.29,106.01 L1461.15,105.86 L1463.01,105.72 L1464.86,105.57 L1466.72,105.43 L1468.57,105.29 L1470.43,105.16 L1472.29,105.02 L1474.14,104.89 L1476.00,104.76 L1477.86,104.63 L1479.71,104.50 L1481.57,104.37 L1483.42,104.25 L1485.28,104.13 L1487.14,104.01 L1488.99,103.89 L1490.85,103.77 L1492.71,103.65 L1494.56,103.53 L1496.42,103.41 L1498.28,103.30 L1500.13,103.18 L1501.99,103.07 L1503.84,102.96 L1505.70,102.84 L1507.56,102.73 L1509.41,102.62 L1511.27,102.51 L1513.12,102.40 L1514.98,102.28 L1516.84,102.17 L1518.69,102.06 L1520.55,101.95 L1522.41,101.84 L1524.26,101.72 L1526.12,101.61 L1527.97,101.50 L1529.83,101.38 L1531.69,101.27 L1533.54,101.15 L1535.40,101.03 L1537.26,100.92 L1539.11,100.80 L1540.97,100.68 L1542.82,100.56 L1544.68,100.43 L1546.54,100.31 L1548.39,100.18 L1550.25,100.06 L1552.11,99.93 L1553.96,99.80 L1555.82,99.66 L1557.67,99.53 L1559.53,99.39 L1561.39,99.25 L1563.24,99.11 L1565.10,98.97 L1566.96,98.82 L1568.81,98.68 L1570.67,98.53 L1572.53,98.37 L1574.38,98.22 L1576.24,98.07 L1578.09,97.94 L1579.95,97.84 L1581.81,97.78 L1583.66,97.77 L1585.52,97.81 L1587.38,97.93 L1589.23,98.12 L1591.09,98.40 L1592.94,98.78 L1594.80,99.28" stroke="#558a37" stroke-width="3.2" fill="none" stroke-linejoin="round" stroke-linecap="round" clip-path="url(#rclip)"/>
<path d="M1000.80,269.94 L1002.66,265.28 L1004.51,260.97 L1006.37,256.95 L1008.22,253.17 L1010.08,249.59 L1011.94,246.14 L1013.79,242.79 L1015.65,239.48 L1017.51,236.16 L1019.36,232.77 L1021.22,229.29 L1023.07,225.79 L1024.93,222.40 L1026.79,219.25 L1028.64,216.48 L1030.50,214.21 L1032.36,212.50 L1034.21,211.29 L1036.07,210.52 L1037.92,210.14 L1039.78,210.07 L1041.64,210.28 L1043.49,210.70 L1045.35,211.33 L1047.21,212.16 L1049.06,213.17 L1050.92,214.36 L1052.77,215.72 L1054.63,217.24 L1056.49,218.91 L1058.34,220.73 L1060.20,222.67 L1062.06,224.74 L1063.91,226.92 L1065.77,229.20 L1067.62,231.58 L1069.48,234.04 L1071.34,236.58 L1073.19,239.15 L1075.05,241.69 L1076.91,244.17 L1078.76,246.56 L1080.62,248.87 L1082.47,251.10 L1084.33,253.27 L1086.19,255.35 L1088.04,257.38 L1089.90,259.34 L1091.76,261.24 L1093.61,263.08 L1095.47,264.88 L1097.33,266.63 L1099.18,268.34 L1101.04,270.01 L1102.89,271.64 L1104.75,273.25 L1106.61,274.83 L1108.46,276.39 L1110.32,277.93 L1112.17,279.46 L1114.03,280.98 L1115.89,282.49 L1117.74,284.00 L1119.60,285.52 L1121.46,287.04 L1123.31,288.57 L1125.17,290.11 L1127.02,291.65 L1128.88,293.20 L1130.74,294.74 L1132.59,296.29 L1134.45,297.84 L1136.31,299.39 L1138.16,300.94 L1140.02,302.48 L1141.88,304.02 L1143.73,305.55 L1145.59,307.08 L1147.44,308.60 L1149.30,310.11 L1151.16,311.61 L1153.01,313.10 L1154.87,314.58 L1156.72,316.04 L1158.58,317.49 L1160.44,318.93 L1162.29,320.34 L1164.15,321.74 L1166.01,323.12 L1167.86,324.48 L1169.72,325.81 L1171.57,327.13 L1173.43,328.42 L1175.29,329.68 L1177.14,330.92 L1179.00,332.13 L1180.86,333.32 L1182.71,334.48 L1184.57,335.62 L1186.42,336.73 L1188.28,337.82 L1190.14,338.89 L1191.99,339.93 L1193.85,340.96 L1195.71,341.96 L1197.56,342.94 L1199.42,343.91 L1201.28,344.85 L1203.13,345.77 L1204.99,346.68 L1206.84,347.57 L1208.70,348.44 L1210.56,349.30 L1212.41,350.14 L1214.27,350.96 L1216.12,351.78 L1217.98,352.57 L1219.84,353.36 L1221.69,354.13 L1223.55,354.89 L1225.41,355.64 L1227.26,356.37 L1229.12,357.10 L1230.97,357.82 L1232.83,358.53 L1234.69,359.23 L1236.54,359.92 L1238.40,360.61 L1240.26,361.28 L1242.11,361.96 L1243.97,362.62 L1245.82,363.29 L1247.68,363.94 L1249.54,364.60 L1251.39,365.25 L1253.25,365.90 L1255.11,366.55 L1256.96,367.19 L1258.82,367.84 L1260.67,368.48 L1262.53,369.13 L1264.39,369.77 L1266.24,370.42 L1268.10,371.07 L1269.96,371.73 L1271.81,372.38 L1273.67,373.05 L1275.53,373.71 L1277.38,374.38 L1279.24,375.06 L1281.09,375.74 L1282.95,376.43 L1284.81,377.13 L1286.66,377.84 L1288.52,378.56 L1290.38,379.28 L1292.23,380.02 L1294.09,380.76 L1295.94,381.52 L1297.80,382.29" stroke="#7030a0" stroke-width="3.2" fill="none" stroke-linejoin="round" stroke-linecap="round" clip-path="url(#rclip)"/>
<path d="M1617.5,92.60H1643.5" stroke="#1c1c1c" stroke-width="3.2" stroke-linecap="round"/>
<text x="1647.7" y="96.0" font-size="11.2" text-anchor="start" fill="#262626" stroke="#262626" stroke-width="0.15" textLength="55.6" lengthAdjust="spacingAndGlyphs">UVT260A 0</text>
<circle cx="1705.40" cy="88.70" r="1.2" fill="#262626"/>
<path d="M1617.5,143.50H1643.5" stroke="#30589c" stroke-width="3.2" stroke-linecap="round"/>
<text x="1647.7" y="146.9" font-size="11.2" text-anchor="start" fill="#262626" stroke="#262626" stroke-width="0.15" textLength="55.9" lengthAdjust="spacingAndGlyphs">UVT240A 0</text>
<circle cx="1705.70" cy="139.60" r="1.2" fill="#262626"/>
<path d="M1617.5,194.40H1643.5" stroke="#c00000" stroke-width="3.2" stroke-linecap="round"/>
<text x="1647.7" y="197.8" font-size="11.2" text-anchor="start" fill="#262626" stroke="#262626" stroke-width="0.15" textLength="56.1" lengthAdjust="spacingAndGlyphs">UVX240A 0</text>
<circle cx="1705.90" cy="190.50" r="1.2" fill="#262626"/>
<path d="M1617.5,245.30H1643.5" stroke="#ffc000" stroke-width="3.2" stroke-linecap="round"/>
<text x="1647.7" y="248.7" font-size="11.2" text-anchor="start" fill="#262626" stroke="#262626" stroke-width="0.15" textLength="60.5" lengthAdjust="spacingAndGlyphs">UVD260A&#160;&#160;0</text>
<circle cx="1710.30" cy="241.40" r="1.2" fill="#262626"/>
<path d="M1617.5,296.20H1643.5" stroke="#558a37" stroke-width="3.2" stroke-linecap="round"/>
<text x="1647.7" y="299.6" font-size="11.2" text-anchor="start" fill="#262626" stroke="#262626" stroke-width="0.15" textLength="57.3" lengthAdjust="spacingAndGlyphs">UVD240A 0</text>
<circle cx="1707.10" cy="292.30" r="1.2" fill="#262626"/>
<path d="M1617.5,347.10H1643.5" stroke="#7030a0" stroke-width="3.2" stroke-linecap="round"/>
<text x="1647.7" y="350.5" font-size="11.2" text-anchor="start" fill="#262626" stroke="#262626" stroke-width="0.15" textLength="68.4" lengthAdjust="spacingAndGlyphs">UCMNATC0 0</text>
<circle cx="1718.20" cy="343.20" r="1.2" fill="#262626"/>
</svg></body></html>
